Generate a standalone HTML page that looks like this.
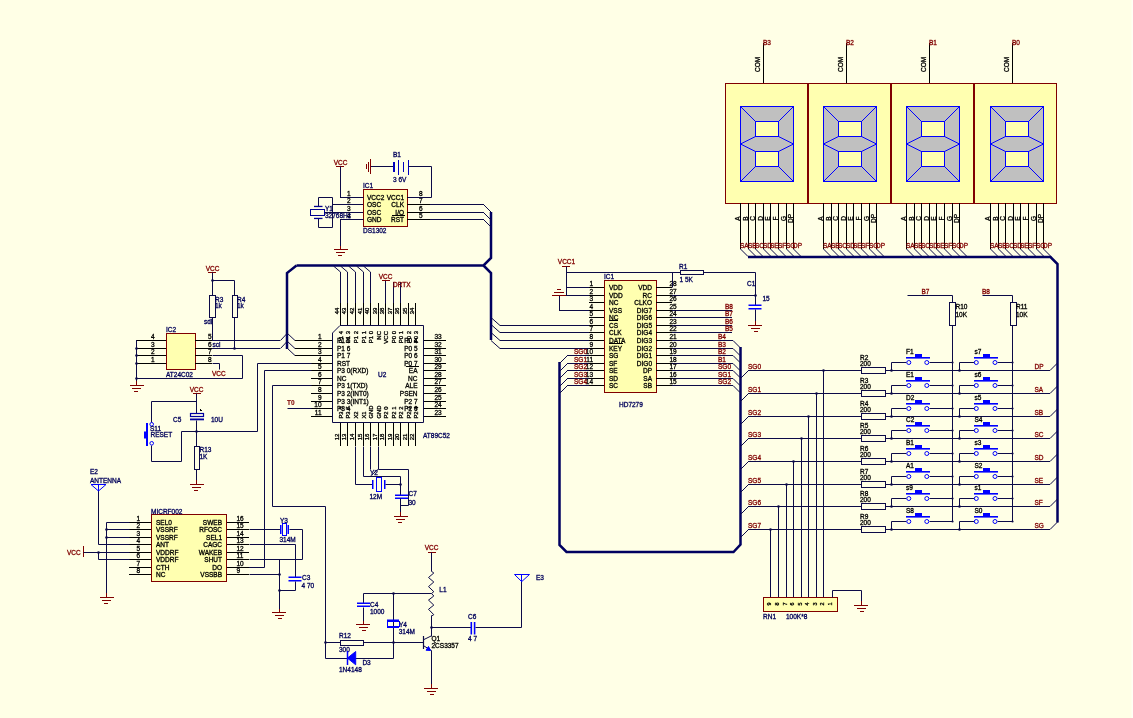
<!DOCTYPE html>
<html><head><meta charset="utf-8"><style>
html,body{margin:0;padding:0;background:#FFFFE6;}
body{width:1133px;height:718px;overflow:hidden;}
svg{display:block;will-change:transform;}
text{font-family:"Liberation Sans",sans-serif;}
</style></head><body>
<svg width="1133" height="718" viewBox="0 0 1133 718">
<rect x="0" y="0" width="1133" height="718" fill="#FFFFE6"/>
<rect x="725.5" y="83.5" width="331" height="120" fill="#FFFFB0" stroke="#800000" stroke-width="1"/>
<rect x="807" y="83" width="2" height="121" fill="#800000"/>
<rect x="890" y="83" width="2" height="121" fill="#800000"/>
<rect x="973" y="83" width="2" height="121" fill="#800000"/>
<rect x="740.5" y="106.5" width="53" height="75" fill="#C0C0C0" stroke="#0000FF" stroke-width="1"/>
<rect x="755.5" y="121.5" width="23" height="15" fill="#FFFFB0" stroke="#0000FF" stroke-width="1"/>
<rect x="755.5" y="151.5" width="23" height="15" fill="#FFFFB0" stroke="#0000FF" stroke-width="1"/>
<line x1="740.5" y1="106.5" x2="755.5" y2="121.5" stroke="#0000FF" stroke-width="1"/>
<line x1="793.5" y1="106.5" x2="778.5" y2="121.5" stroke="#0000FF" stroke-width="1"/>
<line x1="740.5" y1="181.5" x2="755.5" y2="166.5" stroke="#0000FF" stroke-width="1"/>
<line x1="793.5" y1="181.5" x2="778.5" y2="166.5" stroke="#0000FF" stroke-width="1"/>
<line x1="740.5" y1="144.0" x2="755.5" y2="136.5" stroke="#0000FF" stroke-width="1"/>
<line x1="740.5" y1="144.0" x2="755.5" y2="151.5" stroke="#0000FF" stroke-width="1"/>
<line x1="793.5" y1="144.0" x2="778.5" y2="136.5" stroke="#0000FF" stroke-width="1"/>
<line x1="793.5" y1="144.0" x2="778.5" y2="151.5" stroke="#0000FF" stroke-width="1"/>
<line x1="763.50" y1="43.00" x2="763.50" y2="83.00" stroke="#000000" stroke-width="1"/>
<text x="763.00" y="44.50" fill="#800000" stroke="#800000" stroke-width="0.3" font-size="6.5" text-anchor="start" font-weight="normal">B3</text>
<text x="760.00" y="72.00" fill="#000000" stroke="#000000" stroke-width="0.3" font-size="6.5" text-anchor="start" font-weight="normal" transform="rotate(-90 760.00 72.00)">COM</text>
<line x1="740.50" y1="203.00" x2="740.50" y2="249.00" stroke="#000000" stroke-width="1"/>
<line x1="740.5" y1="249" x2="748.0" y2="256.5" stroke="#0C0A48" stroke-width="1"/>
<text x="739.70" y="218.50" fill="#000000" stroke="#000000" stroke-width="0.3" font-size="6.5" text-anchor="middle" font-weight="normal" transform="rotate(-90 739.70 218.50)">A</text>
<line x1="748.50" y1="203.00" x2="748.50" y2="249.00" stroke="#000000" stroke-width="1"/>
<line x1="748.5" y1="249" x2="756.0" y2="256.5" stroke="#0C0A48" stroke-width="1"/>
<text x="747.70" y="218.50" fill="#000000" stroke="#000000" stroke-width="0.3" font-size="6.5" text-anchor="middle" font-weight="normal" transform="rotate(-90 747.70 218.50)">B</text>
<line x1="755.50" y1="203.00" x2="755.50" y2="249.00" stroke="#000000" stroke-width="1"/>
<line x1="755.5" y1="249" x2="763.0" y2="256.5" stroke="#0C0A48" stroke-width="1"/>
<text x="754.70" y="218.50" fill="#000000" stroke="#000000" stroke-width="0.3" font-size="6.5" text-anchor="middle" font-weight="normal" transform="rotate(-90 754.70 218.50)">C</text>
<line x1="763.50" y1="203.00" x2="763.50" y2="249.00" stroke="#000000" stroke-width="1"/>
<line x1="763.5" y1="249" x2="771.0" y2="256.5" stroke="#0C0A48" stroke-width="1"/>
<text x="762.70" y="218.50" fill="#000000" stroke="#000000" stroke-width="0.3" font-size="6.5" text-anchor="middle" font-weight="normal" transform="rotate(-90 762.70 218.50)">D</text>
<line x1="770.50" y1="203.00" x2="770.50" y2="249.00" stroke="#000000" stroke-width="1"/>
<line x1="770.5" y1="249" x2="778.0" y2="256.5" stroke="#0C0A48" stroke-width="1"/>
<text x="769.70" y="218.50" fill="#000000" stroke="#000000" stroke-width="0.3" font-size="6.5" text-anchor="middle" font-weight="normal" transform="rotate(-90 769.70 218.50)">E</text>
<line x1="778.50" y1="203.00" x2="778.50" y2="249.00" stroke="#000000" stroke-width="1"/>
<line x1="778.5" y1="249" x2="786.0" y2="256.5" stroke="#0C0A48" stroke-width="1"/>
<text x="777.70" y="218.50" fill="#000000" stroke="#000000" stroke-width="0.3" font-size="6.5" text-anchor="middle" font-weight="normal" transform="rotate(-90 777.70 218.50)">F</text>
<line x1="786.50" y1="203.00" x2="786.50" y2="249.00" stroke="#000000" stroke-width="1"/>
<line x1="786.5" y1="249" x2="794.0" y2="256.5" stroke="#0C0A48" stroke-width="1"/>
<text x="785.70" y="218.50" fill="#000000" stroke="#000000" stroke-width="0.3" font-size="6.5" text-anchor="middle" font-weight="normal" transform="rotate(-90 785.70 218.50)">G</text>
<line x1="793.50" y1="203.00" x2="793.50" y2="249.00" stroke="#000000" stroke-width="1"/>
<line x1="793.5" y1="249" x2="801.0" y2="256.5" stroke="#0C0A48" stroke-width="1"/>
<text x="792.70" y="218.50" fill="#000000" stroke="#000000" stroke-width="0.3" font-size="6.5" text-anchor="middle" font-weight="normal" transform="rotate(-90 792.70 218.50)">DP</text>
<text x="740.00" y="248.00" fill="#800000" stroke="#800000" stroke-width="0.3" font-size="6.5" text-anchor="start" font-weight="normal">SA</text>
<text x="748.00" y="248.00" fill="#800000" stroke="#800000" stroke-width="0.3" font-size="6.5" text-anchor="start" font-weight="normal">SB</text>
<text x="755.00" y="248.00" fill="#800000" stroke="#800000" stroke-width="0.3" font-size="6.5" text-anchor="start" font-weight="normal">SC</text>
<text x="763.00" y="248.00" fill="#800000" stroke="#800000" stroke-width="0.3" font-size="6.5" text-anchor="start" font-weight="normal">SD</text>
<text x="770.00" y="248.00" fill="#800000" stroke="#800000" stroke-width="0.3" font-size="6.5" text-anchor="start" font-weight="normal">SE</text>
<text x="778.00" y="248.00" fill="#800000" stroke="#800000" stroke-width="0.3" font-size="6.5" text-anchor="start" font-weight="normal">SF</text>
<text x="786.00" y="248.00" fill="#800000" stroke="#800000" stroke-width="0.3" font-size="6.5" text-anchor="start" font-weight="normal">SG</text>
<text x="793.00" y="248.00" fill="#800000" stroke="#800000" stroke-width="0.3" font-size="6.5" text-anchor="start" font-weight="normal">DP</text>
<rect x="823.5" y="106.5" width="53" height="75" fill="#C0C0C0" stroke="#0000FF" stroke-width="1"/>
<rect x="838.5" y="121.5" width="23" height="15" fill="#FFFFB0" stroke="#0000FF" stroke-width="1"/>
<rect x="838.5" y="151.5" width="23" height="15" fill="#FFFFB0" stroke="#0000FF" stroke-width="1"/>
<line x1="823.5" y1="106.5" x2="838.5" y2="121.5" stroke="#0000FF" stroke-width="1"/>
<line x1="876.5" y1="106.5" x2="861.5" y2="121.5" stroke="#0000FF" stroke-width="1"/>
<line x1="823.5" y1="181.5" x2="838.5" y2="166.5" stroke="#0000FF" stroke-width="1"/>
<line x1="876.5" y1="181.5" x2="861.5" y2="166.5" stroke="#0000FF" stroke-width="1"/>
<line x1="823.5" y1="144.0" x2="838.5" y2="136.5" stroke="#0000FF" stroke-width="1"/>
<line x1="823.5" y1="144.0" x2="838.5" y2="151.5" stroke="#0000FF" stroke-width="1"/>
<line x1="876.5" y1="144.0" x2="861.5" y2="136.5" stroke="#0000FF" stroke-width="1"/>
<line x1="876.5" y1="144.0" x2="861.5" y2="151.5" stroke="#0000FF" stroke-width="1"/>
<line x1="846.50" y1="43.00" x2="846.50" y2="83.00" stroke="#000000" stroke-width="1"/>
<text x="846.00" y="44.50" fill="#800000" stroke="#800000" stroke-width="0.3" font-size="6.5" text-anchor="start" font-weight="normal">B2</text>
<text x="843.00" y="72.00" fill="#000000" stroke="#000000" stroke-width="0.3" font-size="6.5" text-anchor="start" font-weight="normal" transform="rotate(-90 843.00 72.00)">COM</text>
<line x1="823.50" y1="203.00" x2="823.50" y2="249.00" stroke="#000000" stroke-width="1"/>
<line x1="823.5" y1="249" x2="831.0" y2="256.5" stroke="#0C0A48" stroke-width="1"/>
<text x="822.70" y="218.50" fill="#000000" stroke="#000000" stroke-width="0.3" font-size="6.5" text-anchor="middle" font-weight="normal" transform="rotate(-90 822.70 218.50)">A</text>
<line x1="831.50" y1="203.00" x2="831.50" y2="249.00" stroke="#000000" stroke-width="1"/>
<line x1="831.5" y1="249" x2="839.0" y2="256.5" stroke="#0C0A48" stroke-width="1"/>
<text x="830.70" y="218.50" fill="#000000" stroke="#000000" stroke-width="0.3" font-size="6.5" text-anchor="middle" font-weight="normal" transform="rotate(-90 830.70 218.50)">B</text>
<line x1="838.50" y1="203.00" x2="838.50" y2="249.00" stroke="#000000" stroke-width="1"/>
<line x1="838.5" y1="249" x2="846.0" y2="256.5" stroke="#0C0A48" stroke-width="1"/>
<text x="837.70" y="218.50" fill="#000000" stroke="#000000" stroke-width="0.3" font-size="6.5" text-anchor="middle" font-weight="normal" transform="rotate(-90 837.70 218.50)">C</text>
<line x1="846.50" y1="203.00" x2="846.50" y2="249.00" stroke="#000000" stroke-width="1"/>
<line x1="846.5" y1="249" x2="854.0" y2="256.5" stroke="#0C0A48" stroke-width="1"/>
<text x="845.70" y="218.50" fill="#000000" stroke="#000000" stroke-width="0.3" font-size="6.5" text-anchor="middle" font-weight="normal" transform="rotate(-90 845.70 218.50)">D</text>
<line x1="853.50" y1="203.00" x2="853.50" y2="249.00" stroke="#000000" stroke-width="1"/>
<line x1="853.5" y1="249" x2="861.0" y2="256.5" stroke="#0C0A48" stroke-width="1"/>
<text x="852.70" y="218.50" fill="#000000" stroke="#000000" stroke-width="0.3" font-size="6.5" text-anchor="middle" font-weight="normal" transform="rotate(-90 852.70 218.50)">E</text>
<line x1="861.50" y1="203.00" x2="861.50" y2="249.00" stroke="#000000" stroke-width="1"/>
<line x1="861.5" y1="249" x2="869.0" y2="256.5" stroke="#0C0A48" stroke-width="1"/>
<text x="860.70" y="218.50" fill="#000000" stroke="#000000" stroke-width="0.3" font-size="6.5" text-anchor="middle" font-weight="normal" transform="rotate(-90 860.70 218.50)">F</text>
<line x1="869.50" y1="203.00" x2="869.50" y2="249.00" stroke="#000000" stroke-width="1"/>
<line x1="869.5" y1="249" x2="877.0" y2="256.5" stroke="#0C0A48" stroke-width="1"/>
<text x="868.70" y="218.50" fill="#000000" stroke="#000000" stroke-width="0.3" font-size="6.5" text-anchor="middle" font-weight="normal" transform="rotate(-90 868.70 218.50)">G</text>
<line x1="876.50" y1="203.00" x2="876.50" y2="249.00" stroke="#000000" stroke-width="1"/>
<line x1="876.5" y1="249" x2="884.0" y2="256.5" stroke="#0C0A48" stroke-width="1"/>
<text x="875.70" y="218.50" fill="#000000" stroke="#000000" stroke-width="0.3" font-size="6.5" text-anchor="middle" font-weight="normal" transform="rotate(-90 875.70 218.50)">DP</text>
<text x="823.00" y="248.00" fill="#800000" stroke="#800000" stroke-width="0.3" font-size="6.5" text-anchor="start" font-weight="normal">SA</text>
<text x="831.00" y="248.00" fill="#800000" stroke="#800000" stroke-width="0.3" font-size="6.5" text-anchor="start" font-weight="normal">SB</text>
<text x="838.00" y="248.00" fill="#800000" stroke="#800000" stroke-width="0.3" font-size="6.5" text-anchor="start" font-weight="normal">SC</text>
<text x="846.00" y="248.00" fill="#800000" stroke="#800000" stroke-width="0.3" font-size="6.5" text-anchor="start" font-weight="normal">SD</text>
<text x="853.00" y="248.00" fill="#800000" stroke="#800000" stroke-width="0.3" font-size="6.5" text-anchor="start" font-weight="normal">SE</text>
<text x="861.00" y="248.00" fill="#800000" stroke="#800000" stroke-width="0.3" font-size="6.5" text-anchor="start" font-weight="normal">SF</text>
<text x="869.00" y="248.00" fill="#800000" stroke="#800000" stroke-width="0.3" font-size="6.5" text-anchor="start" font-weight="normal">SG</text>
<text x="876.00" y="248.00" fill="#800000" stroke="#800000" stroke-width="0.3" font-size="6.5" text-anchor="start" font-weight="normal">DP</text>
<rect x="906.5" y="106.5" width="53" height="75" fill="#C0C0C0" stroke="#0000FF" stroke-width="1"/>
<rect x="921.5" y="121.5" width="23" height="15" fill="#FFFFB0" stroke="#0000FF" stroke-width="1"/>
<rect x="921.5" y="151.5" width="23" height="15" fill="#FFFFB0" stroke="#0000FF" stroke-width="1"/>
<line x1="906.5" y1="106.5" x2="921.5" y2="121.5" stroke="#0000FF" stroke-width="1"/>
<line x1="959.5" y1="106.5" x2="944.5" y2="121.5" stroke="#0000FF" stroke-width="1"/>
<line x1="906.5" y1="181.5" x2="921.5" y2="166.5" stroke="#0000FF" stroke-width="1"/>
<line x1="959.5" y1="181.5" x2="944.5" y2="166.5" stroke="#0000FF" stroke-width="1"/>
<line x1="906.5" y1="144.0" x2="921.5" y2="136.5" stroke="#0000FF" stroke-width="1"/>
<line x1="906.5" y1="144.0" x2="921.5" y2="151.5" stroke="#0000FF" stroke-width="1"/>
<line x1="959.5" y1="144.0" x2="944.5" y2="136.5" stroke="#0000FF" stroke-width="1"/>
<line x1="959.5" y1="144.0" x2="944.5" y2="151.5" stroke="#0000FF" stroke-width="1"/>
<line x1="929.50" y1="43.00" x2="929.50" y2="83.00" stroke="#000000" stroke-width="1"/>
<text x="929.00" y="44.50" fill="#800000" stroke="#800000" stroke-width="0.3" font-size="6.5" text-anchor="start" font-weight="normal">B1</text>
<text x="926.00" y="72.00" fill="#000000" stroke="#000000" stroke-width="0.3" font-size="6.5" text-anchor="start" font-weight="normal" transform="rotate(-90 926.00 72.00)">COM</text>
<line x1="906.50" y1="203.00" x2="906.50" y2="249.00" stroke="#000000" stroke-width="1"/>
<line x1="906.5" y1="249" x2="914.0" y2="256.5" stroke="#0C0A48" stroke-width="1"/>
<text x="905.70" y="218.50" fill="#000000" stroke="#000000" stroke-width="0.3" font-size="6.5" text-anchor="middle" font-weight="normal" transform="rotate(-90 905.70 218.50)">A</text>
<line x1="914.50" y1="203.00" x2="914.50" y2="249.00" stroke="#000000" stroke-width="1"/>
<line x1="914.5" y1="249" x2="922.0" y2="256.5" stroke="#0C0A48" stroke-width="1"/>
<text x="913.70" y="218.50" fill="#000000" stroke="#000000" stroke-width="0.3" font-size="6.5" text-anchor="middle" font-weight="normal" transform="rotate(-90 913.70 218.50)">B</text>
<line x1="921.50" y1="203.00" x2="921.50" y2="249.00" stroke="#000000" stroke-width="1"/>
<line x1="921.5" y1="249" x2="929.0" y2="256.5" stroke="#0C0A48" stroke-width="1"/>
<text x="920.70" y="218.50" fill="#000000" stroke="#000000" stroke-width="0.3" font-size="6.5" text-anchor="middle" font-weight="normal" transform="rotate(-90 920.70 218.50)">C</text>
<line x1="929.50" y1="203.00" x2="929.50" y2="249.00" stroke="#000000" stroke-width="1"/>
<line x1="929.5" y1="249" x2="937.0" y2="256.5" stroke="#0C0A48" stroke-width="1"/>
<text x="928.70" y="218.50" fill="#000000" stroke="#000000" stroke-width="0.3" font-size="6.5" text-anchor="middle" font-weight="normal" transform="rotate(-90 928.70 218.50)">D</text>
<line x1="936.50" y1="203.00" x2="936.50" y2="249.00" stroke="#000000" stroke-width="1"/>
<line x1="936.5" y1="249" x2="944.0" y2="256.5" stroke="#0C0A48" stroke-width="1"/>
<text x="935.70" y="218.50" fill="#000000" stroke="#000000" stroke-width="0.3" font-size="6.5" text-anchor="middle" font-weight="normal" transform="rotate(-90 935.70 218.50)">E</text>
<line x1="944.50" y1="203.00" x2="944.50" y2="249.00" stroke="#000000" stroke-width="1"/>
<line x1="944.5" y1="249" x2="952.0" y2="256.5" stroke="#0C0A48" stroke-width="1"/>
<text x="943.70" y="218.50" fill="#000000" stroke="#000000" stroke-width="0.3" font-size="6.5" text-anchor="middle" font-weight="normal" transform="rotate(-90 943.70 218.50)">F</text>
<line x1="952.50" y1="203.00" x2="952.50" y2="249.00" stroke="#000000" stroke-width="1"/>
<line x1="952.5" y1="249" x2="960.0" y2="256.5" stroke="#0C0A48" stroke-width="1"/>
<text x="951.70" y="218.50" fill="#000000" stroke="#000000" stroke-width="0.3" font-size="6.5" text-anchor="middle" font-weight="normal" transform="rotate(-90 951.70 218.50)">G</text>
<line x1="959.50" y1="203.00" x2="959.50" y2="249.00" stroke="#000000" stroke-width="1"/>
<line x1="959.5" y1="249" x2="967.0" y2="256.5" stroke="#0C0A48" stroke-width="1"/>
<text x="958.70" y="218.50" fill="#000000" stroke="#000000" stroke-width="0.3" font-size="6.5" text-anchor="middle" font-weight="normal" transform="rotate(-90 958.70 218.50)">DP</text>
<text x="906.00" y="248.00" fill="#800000" stroke="#800000" stroke-width="0.3" font-size="6.5" text-anchor="start" font-weight="normal">SA</text>
<text x="914.00" y="248.00" fill="#800000" stroke="#800000" stroke-width="0.3" font-size="6.5" text-anchor="start" font-weight="normal">SB</text>
<text x="921.00" y="248.00" fill="#800000" stroke="#800000" stroke-width="0.3" font-size="6.5" text-anchor="start" font-weight="normal">SC</text>
<text x="929.00" y="248.00" fill="#800000" stroke="#800000" stroke-width="0.3" font-size="6.5" text-anchor="start" font-weight="normal">SD</text>
<text x="936.00" y="248.00" fill="#800000" stroke="#800000" stroke-width="0.3" font-size="6.5" text-anchor="start" font-weight="normal">SE</text>
<text x="944.00" y="248.00" fill="#800000" stroke="#800000" stroke-width="0.3" font-size="6.5" text-anchor="start" font-weight="normal">SF</text>
<text x="952.00" y="248.00" fill="#800000" stroke="#800000" stroke-width="0.3" font-size="6.5" text-anchor="start" font-weight="normal">SG</text>
<text x="959.00" y="248.00" fill="#800000" stroke="#800000" stroke-width="0.3" font-size="6.5" text-anchor="start" font-weight="normal">DP</text>
<rect x="990.5" y="106.5" width="53" height="75" fill="#C0C0C0" stroke="#0000FF" stroke-width="1"/>
<rect x="1005.5" y="121.5" width="23" height="15" fill="#FFFFB0" stroke="#0000FF" stroke-width="1"/>
<rect x="1005.5" y="151.5" width="23" height="15" fill="#FFFFB0" stroke="#0000FF" stroke-width="1"/>
<line x1="990.5" y1="106.5" x2="1005.5" y2="121.5" stroke="#0000FF" stroke-width="1"/>
<line x1="1043.5" y1="106.5" x2="1028.5" y2="121.5" stroke="#0000FF" stroke-width="1"/>
<line x1="990.5" y1="181.5" x2="1005.5" y2="166.5" stroke="#0000FF" stroke-width="1"/>
<line x1="1043.5" y1="181.5" x2="1028.5" y2="166.5" stroke="#0000FF" stroke-width="1"/>
<line x1="990.5" y1="144.0" x2="1005.5" y2="136.5" stroke="#0000FF" stroke-width="1"/>
<line x1="990.5" y1="144.0" x2="1005.5" y2="151.5" stroke="#0000FF" stroke-width="1"/>
<line x1="1043.5" y1="144.0" x2="1028.5" y2="136.5" stroke="#0000FF" stroke-width="1"/>
<line x1="1043.5" y1="144.0" x2="1028.5" y2="151.5" stroke="#0000FF" stroke-width="1"/>
<line x1="1012.50" y1="43.00" x2="1012.50" y2="83.00" stroke="#000000" stroke-width="1"/>
<text x="1012.00" y="44.50" fill="#800000" stroke="#800000" stroke-width="0.3" font-size="6.5" text-anchor="start" font-weight="normal">B0</text>
<text x="1009.00" y="72.00" fill="#000000" stroke="#000000" stroke-width="0.3" font-size="6.5" text-anchor="start" font-weight="normal" transform="rotate(-90 1009.00 72.00)">COM</text>
<line x1="990.50" y1="203.00" x2="990.50" y2="249.00" stroke="#000000" stroke-width="1"/>
<line x1="990.5" y1="249" x2="998.0" y2="256.5" stroke="#0C0A48" stroke-width="1"/>
<text x="989.70" y="218.50" fill="#000000" stroke="#000000" stroke-width="0.3" font-size="6.5" text-anchor="middle" font-weight="normal" transform="rotate(-90 989.70 218.50)">A</text>
<line x1="998.50" y1="203.00" x2="998.50" y2="249.00" stroke="#000000" stroke-width="1"/>
<line x1="998.5" y1="249" x2="1006.0" y2="256.5" stroke="#0C0A48" stroke-width="1"/>
<text x="997.70" y="218.50" fill="#000000" stroke="#000000" stroke-width="0.3" font-size="6.5" text-anchor="middle" font-weight="normal" transform="rotate(-90 997.70 218.50)">B</text>
<line x1="1005.50" y1="203.00" x2="1005.50" y2="249.00" stroke="#000000" stroke-width="1"/>
<line x1="1005.5" y1="249" x2="1013.0" y2="256.5" stroke="#0C0A48" stroke-width="1"/>
<text x="1004.70" y="218.50" fill="#000000" stroke="#000000" stroke-width="0.3" font-size="6.5" text-anchor="middle" font-weight="normal" transform="rotate(-90 1004.70 218.50)">C</text>
<line x1="1013.50" y1="203.00" x2="1013.50" y2="249.00" stroke="#000000" stroke-width="1"/>
<line x1="1013.5" y1="249" x2="1021.0" y2="256.5" stroke="#0C0A48" stroke-width="1"/>
<text x="1012.70" y="218.50" fill="#000000" stroke="#000000" stroke-width="0.3" font-size="6.5" text-anchor="middle" font-weight="normal" transform="rotate(-90 1012.70 218.50)">D</text>
<line x1="1020.50" y1="203.00" x2="1020.50" y2="249.00" stroke="#000000" stroke-width="1"/>
<line x1="1020.5" y1="249" x2="1028.0" y2="256.5" stroke="#0C0A48" stroke-width="1"/>
<text x="1019.70" y="218.50" fill="#000000" stroke="#000000" stroke-width="0.3" font-size="6.5" text-anchor="middle" font-weight="normal" transform="rotate(-90 1019.70 218.50)">E</text>
<line x1="1028.50" y1="203.00" x2="1028.50" y2="249.00" stroke="#000000" stroke-width="1"/>
<line x1="1028.5" y1="249" x2="1036.0" y2="256.5" stroke="#0C0A48" stroke-width="1"/>
<text x="1027.70" y="218.50" fill="#000000" stroke="#000000" stroke-width="0.3" font-size="6.5" text-anchor="middle" font-weight="normal" transform="rotate(-90 1027.70 218.50)">F</text>
<line x1="1036.50" y1="203.00" x2="1036.50" y2="249.00" stroke="#000000" stroke-width="1"/>
<line x1="1036.5" y1="249" x2="1044.0" y2="256.5" stroke="#0C0A48" stroke-width="1"/>
<text x="1035.70" y="218.50" fill="#000000" stroke="#000000" stroke-width="0.3" font-size="6.5" text-anchor="middle" font-weight="normal" transform="rotate(-90 1035.70 218.50)">G</text>
<line x1="1043.50" y1="203.00" x2="1043.50" y2="249.00" stroke="#000000" stroke-width="1"/>
<line x1="1043.5" y1="249" x2="1051.0" y2="256.5" stroke="#0C0A48" stroke-width="1"/>
<text x="1042.70" y="218.50" fill="#000000" stroke="#000000" stroke-width="0.3" font-size="6.5" text-anchor="middle" font-weight="normal" transform="rotate(-90 1042.70 218.50)">DP</text>
<text x="990.00" y="248.00" fill="#800000" stroke="#800000" stroke-width="0.3" font-size="6.5" text-anchor="start" font-weight="normal">SA</text>
<text x="998.00" y="248.00" fill="#800000" stroke="#800000" stroke-width="0.3" font-size="6.5" text-anchor="start" font-weight="normal">SB</text>
<text x="1005.00" y="248.00" fill="#800000" stroke="#800000" stroke-width="0.3" font-size="6.5" text-anchor="start" font-weight="normal">SC</text>
<text x="1013.00" y="248.00" fill="#800000" stroke="#800000" stroke-width="0.3" font-size="6.5" text-anchor="start" font-weight="normal">SD</text>
<text x="1020.00" y="248.00" fill="#800000" stroke="#800000" stroke-width="0.3" font-size="6.5" text-anchor="start" font-weight="normal">SE</text>
<text x="1028.00" y="248.00" fill="#800000" stroke="#800000" stroke-width="0.3" font-size="6.5" text-anchor="start" font-weight="normal">SF</text>
<text x="1036.00" y="248.00" fill="#800000" stroke="#800000" stroke-width="0.3" font-size="6.5" text-anchor="start" font-weight="normal">SG</text>
<text x="1043.00" y="248.00" fill="#800000" stroke="#800000" stroke-width="0.3" font-size="6.5" text-anchor="start" font-weight="normal">DP</text>
<polyline points="748.00,257.00 1050.50,257.00 1057.50,264.00 1057.50,522.50" stroke="#000060" stroke-width="2.5" fill="none" stroke-linejoin="miter"/>
<polyline points="740.50,347.00 740.50,544.50 733.50,552.00 566.50,552.00 559.50,545.00 559.50,362.00" stroke="#000060" stroke-width="2.5" fill="none" stroke-linejoin="miter"/>
<line x1="740" y1="379.0" x2="748.5" y2="370.5" stroke="#0C0A48"/>
<line x1="748.00" y1="370.50" x2="1050.00" y2="370.50" stroke="#0C0A48" stroke-width="1"/>
<line x1="1050" y1="370.5" x2="1057.5" y2="363.0" stroke="#0C0A48"/>
<text x="748.00" y="368.50" fill="#800000" stroke="#800000" stroke-width="0.3" font-size="6.5" text-anchor="start" font-weight="normal">SG0</text>
<rect x="861.5" y="367.5" width="24.0" height="6.0" stroke="#0C0A48" stroke-width="1" fill="#FFFFE6"/>
<text x="860.00" y="360.00" fill="#000000" stroke="#000000" stroke-width="0.3" font-size="6.5" text-anchor="start" font-weight="normal">R2</text>
<text x="860.00" y="366.00" fill="#000000" stroke="#000000" stroke-width="0.3" font-size="6.5" text-anchor="start" font-weight="normal">200</text>
<text x="1034.50" y="368.50" fill="#800000" stroke="#800000" stroke-width="0.3" font-size="6.5" text-anchor="start" font-weight="normal">DP</text>
<polyline points="891.50,370.50 891.50,362.50 906.50,362.50" stroke="#0C0A48" stroke-width="1" fill="none" stroke-linejoin="miter"/>
<polyline points="929.50,362.50 952.50,362.50" stroke="#0C0A48" stroke-width="1" fill="none" stroke-linejoin="miter"/>
<circle cx="908.8" cy="362.5" r="2" fill="none" stroke="#0000FF" stroke-width="1"/>
<circle cx="926.8" cy="362.5" r="2" fill="none" stroke="#0000FF" stroke-width="1"/>
<rect x="906" y="357.0" width="24" height="1.6" fill="#0000FF"/>
<rect x="915" y="354.0" width="7" height="3.4" fill="#0000FF"/>
<text x="906.00" y="353.50" fill="#000000" stroke="#000000" stroke-width="0.3" font-size="6.5" text-anchor="start" font-weight="normal">F1</text>
<circle cx="891.5" cy="370.5" r="1.3" fill="#0C0A48"/>
<circle cx="952.5" cy="362.5" r="1.1" fill="#0C0A48"/>
<circle cx="1012.5" cy="362.5" r="1.1" fill="#0C0A48"/>
<polyline points="959.50,370.50 959.50,362.50 974.50,362.50" stroke="#0C0A48" stroke-width="1" fill="none" stroke-linejoin="miter"/>
<polyline points="997.50,362.50 1012.50,362.50" stroke="#0C0A48" stroke-width="1" fill="none" stroke-linejoin="miter"/>
<circle cx="976.3" cy="362.5" r="2" fill="none" stroke="#0000FF" stroke-width="1"/>
<circle cx="995" cy="362.5" r="2" fill="none" stroke="#0000FF" stroke-width="1"/>
<rect x="974" y="357.0" width="24" height="1.6" fill="#0000FF"/>
<rect x="983" y="354.0" width="7" height="3.4" fill="#0000FF"/>
<text x="974.50" y="353.50" fill="#000000" stroke="#000000" stroke-width="0.3" font-size="6.5" text-anchor="start" font-weight="normal">s7</text>
<circle cx="959.5" cy="370.5" r="1.3" fill="#0C0A48"/>
<line x1="740" y1="402.0" x2="748.5" y2="393.5" stroke="#0C0A48"/>
<line x1="748.00" y1="393.50" x2="1050.00" y2="393.50" stroke="#0C0A48" stroke-width="1"/>
<line x1="1050" y1="393.5" x2="1057.5" y2="386.0" stroke="#0C0A48"/>
<text x="748.00" y="391.50" fill="#800000" stroke="#800000" stroke-width="0.3" font-size="6.5" text-anchor="start" font-weight="normal">SG1</text>
<rect x="861.5" y="390.5" width="24.0" height="6.0" stroke="#0C0A48" stroke-width="1" fill="#FFFFE6"/>
<text x="860.00" y="383.00" fill="#000000" stroke="#000000" stroke-width="0.3" font-size="6.5" text-anchor="start" font-weight="normal">R3</text>
<text x="860.00" y="389.00" fill="#000000" stroke="#000000" stroke-width="0.3" font-size="6.5" text-anchor="start" font-weight="normal">200</text>
<text x="1034.50" y="391.50" fill="#800000" stroke="#800000" stroke-width="0.3" font-size="6.5" text-anchor="start" font-weight="normal">SA</text>
<polyline points="891.50,393.50 891.50,385.50 906.50,385.50" stroke="#0C0A48" stroke-width="1" fill="none" stroke-linejoin="miter"/>
<polyline points="929.50,385.50 952.50,385.50" stroke="#0C0A48" stroke-width="1" fill="none" stroke-linejoin="miter"/>
<circle cx="908.8" cy="385.5" r="2" fill="none" stroke="#0000FF" stroke-width="1"/>
<circle cx="926.8" cy="385.5" r="2" fill="none" stroke="#0000FF" stroke-width="1"/>
<rect x="906" y="380.0" width="24" height="1.6" fill="#0000FF"/>
<rect x="915" y="377.0" width="7" height="3.4" fill="#0000FF"/>
<text x="906.00" y="376.50" fill="#000000" stroke="#000000" stroke-width="0.3" font-size="6.5" text-anchor="start" font-weight="normal">E1</text>
<circle cx="891.5" cy="393.5" r="1.3" fill="#0C0A48"/>
<circle cx="952.5" cy="385.5" r="1.1" fill="#0C0A48"/>
<circle cx="1012.5" cy="385.5" r="1.1" fill="#0C0A48"/>
<polyline points="959.50,393.50 959.50,385.50 974.50,385.50" stroke="#0C0A48" stroke-width="1" fill="none" stroke-linejoin="miter"/>
<polyline points="997.50,385.50 1012.50,385.50" stroke="#0C0A48" stroke-width="1" fill="none" stroke-linejoin="miter"/>
<circle cx="976.3" cy="385.5" r="2" fill="none" stroke="#0000FF" stroke-width="1"/>
<circle cx="995" cy="385.5" r="2" fill="none" stroke="#0000FF" stroke-width="1"/>
<rect x="974" y="380.0" width="24" height="1.6" fill="#0000FF"/>
<rect x="983" y="377.0" width="7" height="3.4" fill="#0000FF"/>
<text x="974.50" y="376.50" fill="#000000" stroke="#000000" stroke-width="0.3" font-size="6.5" text-anchor="start" font-weight="normal">s6</text>
<circle cx="959.5" cy="393.5" r="1.3" fill="#0C0A48"/>
<line x1="740" y1="425.0" x2="748.5" y2="416.5" stroke="#0C0A48"/>
<line x1="748.00" y1="416.50" x2="1050.00" y2="416.50" stroke="#0C0A48" stroke-width="1"/>
<line x1="1050" y1="416.5" x2="1057.5" y2="409.0" stroke="#0C0A48"/>
<text x="748.00" y="414.50" fill="#800000" stroke="#800000" stroke-width="0.3" font-size="6.5" text-anchor="start" font-weight="normal">SG2</text>
<rect x="861.5" y="413.5" width="24.0" height="6.0" stroke="#0C0A48" stroke-width="1" fill="#FFFFE6"/>
<text x="860.00" y="406.00" fill="#000000" stroke="#000000" stroke-width="0.3" font-size="6.5" text-anchor="start" font-weight="normal">R4</text>
<text x="860.00" y="412.00" fill="#000000" stroke="#000000" stroke-width="0.3" font-size="6.5" text-anchor="start" font-weight="normal">200</text>
<text x="1034.50" y="414.50" fill="#800000" stroke="#800000" stroke-width="0.3" font-size="6.5" text-anchor="start" font-weight="normal">SB</text>
<polyline points="891.50,416.50 891.50,408.50 906.50,408.50" stroke="#0C0A48" stroke-width="1" fill="none" stroke-linejoin="miter"/>
<polyline points="929.50,408.50 952.50,408.50" stroke="#0C0A48" stroke-width="1" fill="none" stroke-linejoin="miter"/>
<circle cx="908.8" cy="408.5" r="2" fill="none" stroke="#0000FF" stroke-width="1"/>
<circle cx="926.8" cy="408.5" r="2" fill="none" stroke="#0000FF" stroke-width="1"/>
<rect x="906" y="403.0" width="24" height="1.6" fill="#0000FF"/>
<rect x="915" y="400.0" width="7" height="3.4" fill="#0000FF"/>
<text x="906.00" y="399.50" fill="#000000" stroke="#000000" stroke-width="0.3" font-size="6.5" text-anchor="start" font-weight="normal">D2</text>
<circle cx="891.5" cy="416.5" r="1.3" fill="#0C0A48"/>
<circle cx="952.5" cy="408.5" r="1.1" fill="#0C0A48"/>
<circle cx="1012.5" cy="408.5" r="1.1" fill="#0C0A48"/>
<polyline points="959.50,416.50 959.50,408.50 974.50,408.50" stroke="#0C0A48" stroke-width="1" fill="none" stroke-linejoin="miter"/>
<polyline points="997.50,408.50 1012.50,408.50" stroke="#0C0A48" stroke-width="1" fill="none" stroke-linejoin="miter"/>
<circle cx="976.3" cy="408.5" r="2" fill="none" stroke="#0000FF" stroke-width="1"/>
<circle cx="995" cy="408.5" r="2" fill="none" stroke="#0000FF" stroke-width="1"/>
<rect x="974" y="403.0" width="24" height="1.6" fill="#0000FF"/>
<rect x="983" y="400.0" width="7" height="3.4" fill="#0000FF"/>
<text x="974.50" y="399.50" fill="#000000" stroke="#000000" stroke-width="0.3" font-size="6.5" text-anchor="start" font-weight="normal">s5</text>
<circle cx="959.5" cy="416.5" r="1.3" fill="#0C0A48"/>
<line x1="740" y1="447.0" x2="748.5" y2="438.5" stroke="#0C0A48"/>
<line x1="748.00" y1="438.50" x2="1050.00" y2="438.50" stroke="#0C0A48" stroke-width="1"/>
<line x1="1050" y1="438.5" x2="1057.5" y2="431.0" stroke="#0C0A48"/>
<text x="748.00" y="436.50" fill="#800000" stroke="#800000" stroke-width="0.3" font-size="6.5" text-anchor="start" font-weight="normal">SG3</text>
<rect x="861.5" y="435.5" width="24.0" height="6.0" stroke="#0C0A48" stroke-width="1" fill="#FFFFE6"/>
<text x="860.00" y="428.00" fill="#000000" stroke="#000000" stroke-width="0.3" font-size="6.5" text-anchor="start" font-weight="normal">R5</text>
<text x="860.00" y="434.00" fill="#000000" stroke="#000000" stroke-width="0.3" font-size="6.5" text-anchor="start" font-weight="normal">200</text>
<text x="1034.50" y="436.50" fill="#800000" stroke="#800000" stroke-width="0.3" font-size="6.5" text-anchor="start" font-weight="normal">SC</text>
<polyline points="891.50,438.50 891.50,430.50 906.50,430.50" stroke="#0C0A48" stroke-width="1" fill="none" stroke-linejoin="miter"/>
<polyline points="929.50,430.50 952.50,430.50" stroke="#0C0A48" stroke-width="1" fill="none" stroke-linejoin="miter"/>
<circle cx="908.8" cy="430.5" r="2" fill="none" stroke="#0000FF" stroke-width="1"/>
<circle cx="926.8" cy="430.5" r="2" fill="none" stroke="#0000FF" stroke-width="1"/>
<rect x="906" y="425.0" width="24" height="1.6" fill="#0000FF"/>
<rect x="915" y="422.0" width="7" height="3.4" fill="#0000FF"/>
<text x="906.00" y="421.50" fill="#000000" stroke="#000000" stroke-width="0.3" font-size="6.5" text-anchor="start" font-weight="normal">C2</text>
<circle cx="891.5" cy="438.5" r="1.3" fill="#0C0A48"/>
<circle cx="952.5" cy="430.5" r="1.1" fill="#0C0A48"/>
<circle cx="1012.5" cy="430.5" r="1.1" fill="#0C0A48"/>
<polyline points="959.50,438.50 959.50,430.50 974.50,430.50" stroke="#0C0A48" stroke-width="1" fill="none" stroke-linejoin="miter"/>
<polyline points="997.50,430.50 1012.50,430.50" stroke="#0C0A48" stroke-width="1" fill="none" stroke-linejoin="miter"/>
<circle cx="976.3" cy="430.5" r="2" fill="none" stroke="#0000FF" stroke-width="1"/>
<circle cx="995" cy="430.5" r="2" fill="none" stroke="#0000FF" stroke-width="1"/>
<rect x="974" y="425.0" width="24" height="1.6" fill="#0000FF"/>
<rect x="983" y="422.0" width="7" height="3.4" fill="#0000FF"/>
<text x="974.50" y="421.50" fill="#000000" stroke="#000000" stroke-width="0.3" font-size="6.5" text-anchor="start" font-weight="normal">S4</text>
<circle cx="959.5" cy="438.5" r="1.3" fill="#0C0A48"/>
<line x1="740" y1="470.0" x2="748.5" y2="461.5" stroke="#0C0A48"/>
<line x1="748.00" y1="461.50" x2="1050.00" y2="461.50" stroke="#0C0A48" stroke-width="1"/>
<line x1="1050" y1="461.5" x2="1057.5" y2="454.0" stroke="#0C0A48"/>
<text x="748.00" y="459.50" fill="#800000" stroke="#800000" stroke-width="0.3" font-size="6.5" text-anchor="start" font-weight="normal">SG4</text>
<rect x="861.5" y="458.5" width="24.0" height="6.0" stroke="#0C0A48" stroke-width="1" fill="#FFFFE6"/>
<text x="860.00" y="451.00" fill="#000000" stroke="#000000" stroke-width="0.3" font-size="6.5" text-anchor="start" font-weight="normal">R6</text>
<text x="860.00" y="457.00" fill="#000000" stroke="#000000" stroke-width="0.3" font-size="6.5" text-anchor="start" font-weight="normal">200</text>
<text x="1034.50" y="459.50" fill="#800000" stroke="#800000" stroke-width="0.3" font-size="6.5" text-anchor="start" font-weight="normal">SD</text>
<polyline points="891.50,461.50 891.50,453.50 906.50,453.50" stroke="#0C0A48" stroke-width="1" fill="none" stroke-linejoin="miter"/>
<polyline points="929.50,453.50 952.50,453.50" stroke="#0C0A48" stroke-width="1" fill="none" stroke-linejoin="miter"/>
<circle cx="908.8" cy="453.5" r="2" fill="none" stroke="#0000FF" stroke-width="1"/>
<circle cx="926.8" cy="453.5" r="2" fill="none" stroke="#0000FF" stroke-width="1"/>
<rect x="906" y="448.0" width="24" height="1.6" fill="#0000FF"/>
<rect x="915" y="445.0" width="7" height="3.4" fill="#0000FF"/>
<text x="906.00" y="444.50" fill="#000000" stroke="#000000" stroke-width="0.3" font-size="6.5" text-anchor="start" font-weight="normal">B1</text>
<circle cx="891.5" cy="461.5" r="1.3" fill="#0C0A48"/>
<circle cx="952.5" cy="453.5" r="1.1" fill="#0C0A48"/>
<circle cx="1012.5" cy="453.5" r="1.1" fill="#0C0A48"/>
<polyline points="959.50,461.50 959.50,453.50 974.50,453.50" stroke="#0C0A48" stroke-width="1" fill="none" stroke-linejoin="miter"/>
<polyline points="997.50,453.50 1012.50,453.50" stroke="#0C0A48" stroke-width="1" fill="none" stroke-linejoin="miter"/>
<circle cx="976.3" cy="453.5" r="2" fill="none" stroke="#0000FF" stroke-width="1"/>
<circle cx="995" cy="453.5" r="2" fill="none" stroke="#0000FF" stroke-width="1"/>
<rect x="974" y="448.0" width="24" height="1.6" fill="#0000FF"/>
<rect x="983" y="445.0" width="7" height="3.4" fill="#0000FF"/>
<text x="974.50" y="444.50" fill="#000000" stroke="#000000" stroke-width="0.3" font-size="6.5" text-anchor="start" font-weight="normal">s3</text>
<circle cx="959.5" cy="461.5" r="1.3" fill="#0C0A48"/>
<line x1="740" y1="493.0" x2="748.5" y2="484.5" stroke="#0C0A48"/>
<line x1="748.00" y1="484.50" x2="1050.00" y2="484.50" stroke="#0C0A48" stroke-width="1"/>
<line x1="1050" y1="484.5" x2="1057.5" y2="477.0" stroke="#0C0A48"/>
<text x="748.00" y="482.50" fill="#800000" stroke="#800000" stroke-width="0.3" font-size="6.5" text-anchor="start" font-weight="normal">SG5</text>
<rect x="861.5" y="481.5" width="24.0" height="6.0" stroke="#0C0A48" stroke-width="1" fill="#FFFFE6"/>
<text x="860.00" y="474.00" fill="#000000" stroke="#000000" stroke-width="0.3" font-size="6.5" text-anchor="start" font-weight="normal">R7</text>
<text x="860.00" y="480.00" fill="#000000" stroke="#000000" stroke-width="0.3" font-size="6.5" text-anchor="start" font-weight="normal">200</text>
<text x="1034.50" y="482.50" fill="#800000" stroke="#800000" stroke-width="0.3" font-size="6.5" text-anchor="start" font-weight="normal">SE</text>
<polyline points="891.50,484.50 891.50,476.50 906.50,476.50" stroke="#0C0A48" stroke-width="1" fill="none" stroke-linejoin="miter"/>
<polyline points="929.50,476.50 952.50,476.50" stroke="#0C0A48" stroke-width="1" fill="none" stroke-linejoin="miter"/>
<circle cx="908.8" cy="476.5" r="2" fill="none" stroke="#0000FF" stroke-width="1"/>
<circle cx="926.8" cy="476.5" r="2" fill="none" stroke="#0000FF" stroke-width="1"/>
<rect x="906" y="471.0" width="24" height="1.6" fill="#0000FF"/>
<rect x="915" y="468.0" width="7" height="3.4" fill="#0000FF"/>
<text x="906.00" y="467.50" fill="#000000" stroke="#000000" stroke-width="0.3" font-size="6.5" text-anchor="start" font-weight="normal">A1</text>
<circle cx="891.5" cy="484.5" r="1.3" fill="#0C0A48"/>
<circle cx="952.5" cy="476.5" r="1.1" fill="#0C0A48"/>
<circle cx="1012.5" cy="476.5" r="1.1" fill="#0C0A48"/>
<polyline points="959.50,484.50 959.50,476.50 974.50,476.50" stroke="#0C0A48" stroke-width="1" fill="none" stroke-linejoin="miter"/>
<polyline points="997.50,476.50 1012.50,476.50" stroke="#0C0A48" stroke-width="1" fill="none" stroke-linejoin="miter"/>
<circle cx="976.3" cy="476.5" r="2" fill="none" stroke="#0000FF" stroke-width="1"/>
<circle cx="995" cy="476.5" r="2" fill="none" stroke="#0000FF" stroke-width="1"/>
<rect x="974" y="471.0" width="24" height="1.6" fill="#0000FF"/>
<rect x="983" y="468.0" width="7" height="3.4" fill="#0000FF"/>
<text x="974.50" y="467.50" fill="#000000" stroke="#000000" stroke-width="0.3" font-size="6.5" text-anchor="start" font-weight="normal">S2</text>
<circle cx="959.5" cy="484.5" r="1.3" fill="#0C0A48"/>
<line x1="740" y1="515.0" x2="748.5" y2="506.5" stroke="#0C0A48"/>
<line x1="748.00" y1="506.50" x2="1050.00" y2="506.50" stroke="#0C0A48" stroke-width="1"/>
<line x1="1050" y1="506.5" x2="1057.5" y2="499.0" stroke="#0C0A48"/>
<text x="748.00" y="504.50" fill="#800000" stroke="#800000" stroke-width="0.3" font-size="6.5" text-anchor="start" font-weight="normal">SG6</text>
<rect x="861.5" y="503.5" width="24.0" height="6.0" stroke="#0C0A48" stroke-width="1" fill="#FFFFE6"/>
<text x="860.00" y="496.00" fill="#000000" stroke="#000000" stroke-width="0.3" font-size="6.5" text-anchor="start" font-weight="normal">R8</text>
<text x="860.00" y="502.00" fill="#000000" stroke="#000000" stroke-width="0.3" font-size="6.5" text-anchor="start" font-weight="normal">200</text>
<text x="1034.50" y="504.50" fill="#800000" stroke="#800000" stroke-width="0.3" font-size="6.5" text-anchor="start" font-weight="normal">SF</text>
<polyline points="891.50,506.50 891.50,498.50 906.50,498.50" stroke="#0C0A48" stroke-width="1" fill="none" stroke-linejoin="miter"/>
<polyline points="929.50,498.50 952.50,498.50" stroke="#0C0A48" stroke-width="1" fill="none" stroke-linejoin="miter"/>
<circle cx="908.8" cy="498.5" r="2" fill="none" stroke="#0000FF" stroke-width="1"/>
<circle cx="926.8" cy="498.5" r="2" fill="none" stroke="#0000FF" stroke-width="1"/>
<rect x="906" y="493.0" width="24" height="1.6" fill="#0000FF"/>
<rect x="915" y="490.0" width="7" height="3.4" fill="#0000FF"/>
<text x="906.00" y="489.50" fill="#000000" stroke="#000000" stroke-width="0.3" font-size="6.5" text-anchor="start" font-weight="normal">s9</text>
<circle cx="891.5" cy="506.5" r="1.3" fill="#0C0A48"/>
<circle cx="952.5" cy="498.5" r="1.1" fill="#0C0A48"/>
<circle cx="1012.5" cy="498.5" r="1.1" fill="#0C0A48"/>
<polyline points="959.50,506.50 959.50,498.50 974.50,498.50" stroke="#0C0A48" stroke-width="1" fill="none" stroke-linejoin="miter"/>
<polyline points="997.50,498.50 1012.50,498.50" stroke="#0C0A48" stroke-width="1" fill="none" stroke-linejoin="miter"/>
<circle cx="976.3" cy="498.5" r="2" fill="none" stroke="#0000FF" stroke-width="1"/>
<circle cx="995" cy="498.5" r="2" fill="none" stroke="#0000FF" stroke-width="1"/>
<rect x="974" y="493.0" width="24" height="1.6" fill="#0000FF"/>
<rect x="983" y="490.0" width="7" height="3.4" fill="#0000FF"/>
<text x="974.50" y="489.50" fill="#000000" stroke="#000000" stroke-width="0.3" font-size="6.5" text-anchor="start" font-weight="normal">s1</text>
<circle cx="959.5" cy="506.5" r="1.3" fill="#0C0A48"/>
<line x1="740" y1="538.0" x2="748.5" y2="529.5" stroke="#0C0A48"/>
<line x1="748.00" y1="529.50" x2="1050.00" y2="529.50" stroke="#0C0A48" stroke-width="1"/>
<line x1="1050" y1="529.5" x2="1057.5" y2="522.0" stroke="#0C0A48"/>
<text x="748.00" y="527.50" fill="#800000" stroke="#800000" stroke-width="0.3" font-size="6.5" text-anchor="start" font-weight="normal">SG7</text>
<rect x="861.5" y="526.5" width="24.0" height="6.0" stroke="#0C0A48" stroke-width="1" fill="#FFFFE6"/>
<text x="860.00" y="519.00" fill="#000000" stroke="#000000" stroke-width="0.3" font-size="6.5" text-anchor="start" font-weight="normal">R9</text>
<text x="860.00" y="525.00" fill="#000000" stroke="#000000" stroke-width="0.3" font-size="6.5" text-anchor="start" font-weight="normal">200</text>
<text x="1034.50" y="527.50" fill="#800000" stroke="#800000" stroke-width="0.3" font-size="6.5" text-anchor="start" font-weight="normal">SG</text>
<polyline points="891.50,529.50 891.50,521.50 906.50,521.50" stroke="#0C0A48" stroke-width="1" fill="none" stroke-linejoin="miter"/>
<polyline points="929.50,521.50 952.50,521.50" stroke="#0C0A48" stroke-width="1" fill="none" stroke-linejoin="miter"/>
<circle cx="908.8" cy="521.5" r="2" fill="none" stroke="#0000FF" stroke-width="1"/>
<circle cx="926.8" cy="521.5" r="2" fill="none" stroke="#0000FF" stroke-width="1"/>
<rect x="906" y="516.0" width="24" height="1.6" fill="#0000FF"/>
<rect x="915" y="513.0" width="7" height="3.4" fill="#0000FF"/>
<text x="906.00" y="512.50" fill="#000000" stroke="#000000" stroke-width="0.3" font-size="6.5" text-anchor="start" font-weight="normal">S8</text>
<circle cx="891.5" cy="529.5" r="1.3" fill="#0C0A48"/>
<circle cx="952.5" cy="521.5" r="1.1" fill="#0C0A48"/>
<circle cx="1012.5" cy="521.5" r="1.1" fill="#0C0A48"/>
<polyline points="959.50,529.50 959.50,521.50 974.50,521.50" stroke="#0C0A48" stroke-width="1" fill="none" stroke-linejoin="miter"/>
<polyline points="997.50,521.50 1012.50,521.50" stroke="#0C0A48" stroke-width="1" fill="none" stroke-linejoin="miter"/>
<circle cx="976.3" cy="521.5" r="2" fill="none" stroke="#0000FF" stroke-width="1"/>
<circle cx="995" cy="521.5" r="2" fill="none" stroke="#0000FF" stroke-width="1"/>
<rect x="974" y="516.0" width="24" height="1.6" fill="#0000FF"/>
<rect x="983" y="513.0" width="7" height="3.4" fill="#0000FF"/>
<text x="974.50" y="512.50" fill="#000000" stroke="#000000" stroke-width="0.3" font-size="6.5" text-anchor="start" font-weight="normal">S0</text>
<circle cx="959.5" cy="529.5" r="1.3" fill="#0C0A48"/>
<line x1="952.50" y1="325.00" x2="952.50" y2="522.00" stroke="#0C0A48" stroke-width="1"/>
<line x1="1012.50" y1="325.00" x2="1012.50" y2="522.00" stroke="#0C0A48" stroke-width="1"/>
<polyline points="907.50,295.50 952.50,295.50 952.50,302.50" stroke="#0C0A48" stroke-width="1" fill="none" stroke-linejoin="miter"/>
<polyline points="982.50,295.50 1012.50,295.50 1012.50,302.50" stroke="#0C0A48" stroke-width="1" fill="none" stroke-linejoin="miter"/>
<rect x="949.5" y="302.5" width="6.0" height="23.0" stroke="#0C0A48" stroke-width="1" fill="#FFFFE6"/>
<rect x="1010.5" y="302.5" width="6.0" height="23.0" stroke="#0C0A48" stroke-width="1" fill="#FFFFE6"/>
<text x="955.50" y="308.50" fill="#000000" stroke="#000000" stroke-width="0.3" font-size="6.5" text-anchor="start" font-weight="normal">R10</text>
<text x="955.50" y="316.50" fill="#000000" stroke="#000000" stroke-width="0.3" font-size="6.5" text-anchor="start" font-weight="normal">10K</text>
<text x="1016.00" y="308.50" fill="#000000" stroke="#000000" stroke-width="0.3" font-size="6.5" text-anchor="start" font-weight="normal">R11</text>
<text x="1016.00" y="316.50" fill="#000000" stroke="#000000" stroke-width="0.3" font-size="6.5" text-anchor="start" font-weight="normal">10K</text>
<text x="921.50" y="294.00" fill="#800000" stroke="#800000" stroke-width="0.3" font-size="6.5" text-anchor="start" font-weight="normal">B7</text>
<text x="982.00" y="294.00" fill="#800000" stroke="#800000" stroke-width="0.3" font-size="6.5" text-anchor="start" font-weight="normal">B8</text>
<line x1="823.50" y1="370.00" x2="823.50" y2="597.00" stroke="#0C0A48" stroke-width="1"/>
<circle cx="823.5" cy="370.5" r="1.3" fill="#0C0A48"/>
<line x1="816.50" y1="393.00" x2="816.50" y2="597.00" stroke="#0C0A48" stroke-width="1"/>
<circle cx="816.5" cy="393.5" r="1.3" fill="#0C0A48"/>
<line x1="808.50" y1="416.00" x2="808.50" y2="597.00" stroke="#0C0A48" stroke-width="1"/>
<circle cx="808.5" cy="416.5" r="1.3" fill="#0C0A48"/>
<line x1="801.50" y1="438.00" x2="801.50" y2="597.00" stroke="#0C0A48" stroke-width="1"/>
<circle cx="801.5" cy="438.5" r="1.3" fill="#0C0A48"/>
<line x1="793.50" y1="461.00" x2="793.50" y2="597.00" stroke="#0C0A48" stroke-width="1"/>
<circle cx="793.5" cy="461.5" r="1.3" fill="#0C0A48"/>
<line x1="786.50" y1="484.00" x2="786.50" y2="597.00" stroke="#0C0A48" stroke-width="1"/>
<circle cx="786.5" cy="484.5" r="1.3" fill="#0C0A48"/>
<line x1="778.50" y1="506.00" x2="778.50" y2="597.00" stroke="#0C0A48" stroke-width="1"/>
<circle cx="778.5" cy="506.5" r="1.3" fill="#0C0A48"/>
<line x1="770.50" y1="529.00" x2="770.50" y2="597.00" stroke="#0C0A48" stroke-width="1"/>
<circle cx="770.5" cy="529.5" r="1.3" fill="#0C0A48"/>
<rect x="763.5" y="597.5" width="74.0" height="14.0" stroke="#800000" stroke-width="1" fill="#FFFFB0"/>
<text x="770.80" y="604.00" fill="#000000" stroke="#000000" stroke-width="0.3" font-size="5.5" text-anchor="middle" font-weight="normal" transform="rotate(-90 770.80 604.00)">9</text>
<text x="778.80" y="604.00" fill="#000000" stroke="#000000" stroke-width="0.3" font-size="5.5" text-anchor="middle" font-weight="normal" transform="rotate(-90 778.80 604.00)">8</text>
<text x="786.80" y="604.00" fill="#000000" stroke="#000000" stroke-width="0.3" font-size="5.5" text-anchor="middle" font-weight="normal" transform="rotate(-90 786.80 604.00)">7</text>
<text x="793.80" y="604.00" fill="#000000" stroke="#000000" stroke-width="0.3" font-size="5.5" text-anchor="middle" font-weight="normal" transform="rotate(-90 793.80 604.00)">6</text>
<text x="801.80" y="604.00" fill="#000000" stroke="#000000" stroke-width="0.3" font-size="5.5" text-anchor="middle" font-weight="normal" transform="rotate(-90 801.80 604.00)">5</text>
<text x="808.80" y="604.00" fill="#000000" stroke="#000000" stroke-width="0.3" font-size="5.5" text-anchor="middle" font-weight="normal" transform="rotate(-90 808.80 604.00)">4</text>
<text x="816.80" y="604.00" fill="#000000" stroke="#000000" stroke-width="0.3" font-size="5.5" text-anchor="middle" font-weight="normal" transform="rotate(-90 816.80 604.00)">3</text>
<text x="823.80" y="604.00" fill="#000000" stroke="#000000" stroke-width="0.3" font-size="5.5" text-anchor="middle" font-weight="normal" transform="rotate(-90 823.80 604.00)">2</text>
<text x="831.80" y="604.00" fill="#000000" stroke="#000000" stroke-width="0.3" font-size="5.5" text-anchor="middle" font-weight="normal" transform="rotate(-90 831.80 604.00)">1</text>
<polyline points="832.50,597.50 832.50,590.50 861.50,590.50 861.50,605.50" stroke="#0C0A48" stroke-width="1" fill="none" stroke-linejoin="miter"/>
<line x1="861.50" y1="601.00" x2="861.50" y2="605.00" stroke="#800000" stroke-width="1"/>
<line x1="854.00" y1="605.50" x2="868.00" y2="605.50" stroke="#800000" stroke-width="1"/>
<line x1="857.00" y1="608.50" x2="866.00" y2="608.50" stroke="#800000" stroke-width="1"/>
<line x1="860.00" y1="611.50" x2="864.00" y2="611.50" stroke="#800000" stroke-width="1"/>
<text x="763.00" y="619.00" fill="#00005A" stroke="#00005A" stroke-width="0.3" font-size="6.5" text-anchor="start" font-weight="normal">RN1</text>
<text x="786.00" y="619.00" fill="#00005A" stroke="#00005A" stroke-width="0.3" font-size="6.5" text-anchor="start" font-weight="normal">100K*8</text>
<rect x="604.5" y="280.5" width="52.0" height="112.0" stroke="#800000" stroke-width="1" fill="#FFFFB0"/>
<line x1="566.00" y1="287.50" x2="604.00" y2="287.50" stroke="#0C0A48" stroke-width="1"/>
<line x1="589.00" y1="287.50" x2="604.00" y2="287.50" stroke="#000000" stroke-width="1"/>
<text x="593.00" y="286.00" fill="#000000" stroke="#000000" stroke-width="0.3" font-size="6.5" text-anchor="end" font-weight="normal">1</text>
<text x="609.00" y="290.00" fill="#000000" stroke="#000000" stroke-width="0.3" font-size="6.5" text-anchor="start" font-weight="normal">VDD</text>
<line x1="566.00" y1="295.50" x2="604.00" y2="295.50" stroke="#0C0A48" stroke-width="1"/>
<line x1="589.00" y1="295.50" x2="604.00" y2="295.50" stroke="#000000" stroke-width="1"/>
<text x="593.00" y="294.00" fill="#000000" stroke="#000000" stroke-width="0.3" font-size="6.5" text-anchor="end" font-weight="normal">2</text>
<text x="609.00" y="298.00" fill="#000000" stroke="#000000" stroke-width="0.3" font-size="6.5" text-anchor="start" font-weight="normal">VDD</text>
<line x1="589.00" y1="302.50" x2="604.00" y2="302.50" stroke="#000000" stroke-width="1"/>
<line x1="589.00" y1="302.50" x2="604.00" y2="302.50" stroke="#000000" stroke-width="1"/>
<text x="593.00" y="301.00" fill="#000000" stroke="#000000" stroke-width="0.3" font-size="6.5" text-anchor="end" font-weight="normal">3</text>
<text x="609.00" y="305.00" fill="#000000" stroke="#000000" stroke-width="0.3" font-size="6.5" text-anchor="start" font-weight="normal">NC</text>
<line x1="559.00" y1="310.50" x2="604.00" y2="310.50" stroke="#0C0A48" stroke-width="1"/>
<line x1="589.00" y1="310.50" x2="604.00" y2="310.50" stroke="#000000" stroke-width="1"/>
<text x="593.00" y="309.00" fill="#000000" stroke="#000000" stroke-width="0.3" font-size="6.5" text-anchor="end" font-weight="normal">4</text>
<text x="609.00" y="313.00" fill="#000000" stroke="#000000" stroke-width="0.3" font-size="6.5" text-anchor="start" font-weight="normal">VSS</text>
<line x1="589.00" y1="317.50" x2="604.00" y2="317.50" stroke="#000000" stroke-width="1"/>
<line x1="589.00" y1="317.50" x2="604.00" y2="317.50" stroke="#000000" stroke-width="1"/>
<text x="593.00" y="316.00" fill="#000000" stroke="#000000" stroke-width="0.3" font-size="6.5" text-anchor="end" font-weight="normal">5</text>
<text x="609.00" y="320.00" fill="#000000" stroke="#000000" stroke-width="0.3" font-size="6.5" text-anchor="start" font-weight="normal">NC</text>
<line x1="500.00" y1="325.50" x2="604.00" y2="325.50" stroke="#0C0A48" stroke-width="1"/>
<line x1="589.00" y1="325.50" x2="604.00" y2="325.50" stroke="#000000" stroke-width="1"/>
<text x="593.00" y="324.00" fill="#000000" stroke="#000000" stroke-width="0.3" font-size="6.5" text-anchor="end" font-weight="normal">6</text>
<text x="609.00" y="328.00" fill="#000000" stroke="#000000" stroke-width="0.3" font-size="6.5" text-anchor="start" font-weight="normal">CS</text>
<line x1="491" y1="317.5" x2="500" y2="325.5" stroke="#0C0A48"/>
<line x1="500.00" y1="332.50" x2="604.00" y2="332.50" stroke="#0C0A48" stroke-width="1"/>
<line x1="589.00" y1="332.50" x2="604.00" y2="332.50" stroke="#000000" stroke-width="1"/>
<text x="593.00" y="331.00" fill="#000000" stroke="#000000" stroke-width="0.3" font-size="6.5" text-anchor="end" font-weight="normal">7</text>
<text x="609.00" y="335.00" fill="#000000" stroke="#000000" stroke-width="0.3" font-size="6.5" text-anchor="start" font-weight="normal">CLK</text>
<line x1="491" y1="324.5" x2="500" y2="332.5" stroke="#0C0A48"/>
<line x1="500.00" y1="340.50" x2="604.00" y2="340.50" stroke="#0C0A48" stroke-width="1"/>
<line x1="589.00" y1="340.50" x2="604.00" y2="340.50" stroke="#000000" stroke-width="1"/>
<text x="593.00" y="339.00" fill="#000000" stroke="#000000" stroke-width="0.3" font-size="6.5" text-anchor="end" font-weight="normal">8</text>
<text x="609.00" y="343.00" fill="#000000" stroke="#000000" stroke-width="0.3" font-size="6.5" text-anchor="start" font-weight="normal">DATA</text>
<line x1="491" y1="332.5" x2="500" y2="340.5" stroke="#0C0A48"/>
<line x1="500.00" y1="348.50" x2="604.00" y2="348.50" stroke="#0C0A48" stroke-width="1"/>
<line x1="589.00" y1="348.50" x2="604.00" y2="348.50" stroke="#000000" stroke-width="1"/>
<text x="593.00" y="347.00" fill="#000000" stroke="#000000" stroke-width="0.3" font-size="6.5" text-anchor="end" font-weight="normal">9</text>
<text x="609.00" y="351.00" fill="#000000" stroke="#000000" stroke-width="0.3" font-size="6.5" text-anchor="start" font-weight="normal">KEY</text>
<line x1="491" y1="340.5" x2="500" y2="348.5" stroke="#0C0A48"/>
<line x1="567.00" y1="355.50" x2="604.00" y2="355.50" stroke="#0C0A48" stroke-width="1"/>
<line x1="589.00" y1="355.50" x2="604.00" y2="355.50" stroke="#000000" stroke-width="1"/>
<text x="593.00" y="354.00" fill="#000000" stroke="#000000" stroke-width="0.3" font-size="6.5" text-anchor="end" font-weight="normal">10</text>
<text x="609.00" y="358.00" fill="#000000" stroke="#000000" stroke-width="0.3" font-size="6.5" text-anchor="start" font-weight="normal">SG</text>
<line x1="559.5" y1="363.5" x2="567.5" y2="355.5" stroke="#0C0A48"/>
<text x="574.00" y="354.00" fill="#800000" stroke="#800000" stroke-width="0.3" font-size="6.5" text-anchor="start" font-weight="normal">SG0</text>
<line x1="567.00" y1="363.50" x2="604.00" y2="363.50" stroke="#0C0A48" stroke-width="1"/>
<line x1="589.00" y1="363.50" x2="604.00" y2="363.50" stroke="#000000" stroke-width="1"/>
<text x="593.00" y="362.00" fill="#000000" stroke="#000000" stroke-width="0.3" font-size="6.5" text-anchor="end" font-weight="normal">11</text>
<text x="609.00" y="366.00" fill="#000000" stroke="#000000" stroke-width="0.3" font-size="6.5" text-anchor="start" font-weight="normal">SF</text>
<line x1="559.5" y1="371.5" x2="567.5" y2="363.5" stroke="#0C0A48"/>
<text x="574.00" y="362.00" fill="#800000" stroke="#800000" stroke-width="0.3" font-size="6.5" text-anchor="start" font-weight="normal">SG1</text>
<line x1="567.00" y1="370.50" x2="604.00" y2="370.50" stroke="#0C0A48" stroke-width="1"/>
<line x1="589.00" y1="370.50" x2="604.00" y2="370.50" stroke="#000000" stroke-width="1"/>
<text x="593.00" y="369.00" fill="#000000" stroke="#000000" stroke-width="0.3" font-size="6.5" text-anchor="end" font-weight="normal">12</text>
<text x="609.00" y="373.00" fill="#000000" stroke="#000000" stroke-width="0.3" font-size="6.5" text-anchor="start" font-weight="normal">SE</text>
<line x1="559.5" y1="378.5" x2="567.5" y2="370.5" stroke="#0C0A48"/>
<text x="574.00" y="369.00" fill="#800000" stroke="#800000" stroke-width="0.3" font-size="6.5" text-anchor="start" font-weight="normal">SG2</text>
<line x1="567.00" y1="378.50" x2="604.00" y2="378.50" stroke="#0C0A48" stroke-width="1"/>
<line x1="589.00" y1="378.50" x2="604.00" y2="378.50" stroke="#000000" stroke-width="1"/>
<text x="593.00" y="377.00" fill="#000000" stroke="#000000" stroke-width="0.3" font-size="6.5" text-anchor="end" font-weight="normal">13</text>
<text x="609.00" y="381.00" fill="#000000" stroke="#000000" stroke-width="0.3" font-size="6.5" text-anchor="start" font-weight="normal">SD</text>
<line x1="559.5" y1="386.5" x2="567.5" y2="378.5" stroke="#0C0A48"/>
<text x="574.00" y="377.00" fill="#800000" stroke="#800000" stroke-width="0.3" font-size="6.5" text-anchor="start" font-weight="normal">SG3</text>
<line x1="567.00" y1="385.50" x2="604.00" y2="385.50" stroke="#0C0A48" stroke-width="1"/>
<line x1="589.00" y1="385.50" x2="604.00" y2="385.50" stroke="#000000" stroke-width="1"/>
<text x="593.00" y="384.00" fill="#000000" stroke="#000000" stroke-width="0.3" font-size="6.5" text-anchor="end" font-weight="normal">14</text>
<text x="609.00" y="388.00" fill="#000000" stroke="#000000" stroke-width="0.3" font-size="6.5" text-anchor="start" font-weight="normal">SC</text>
<line x1="559.5" y1="393.5" x2="567.5" y2="385.5" stroke="#0C0A48"/>
<text x="574.00" y="384.00" fill="#800000" stroke="#800000" stroke-width="0.3" font-size="6.5" text-anchor="start" font-weight="normal">SG4</text>
<line x1="656.00" y1="287.50" x2="672.00" y2="287.50" stroke="#000000" stroke-width="1"/>
<line x1="672.50" y1="288.00" x2="672.50" y2="288.00" stroke="#0C0A48" stroke-width="1"/>
<text x="669.50" y="286.00" fill="#000000" stroke="#000000" stroke-width="0.3" font-size="6.5" text-anchor="start" font-weight="normal">28</text>
<text x="652.00" y="290.00" fill="#000000" stroke="#000000" stroke-width="0.3" font-size="6.5" text-anchor="end" font-weight="normal">VDD</text>
<line x1="656.00" y1="295.50" x2="672.00" y2="295.50" stroke="#000000" stroke-width="1"/>
<line x1="672.00" y1="295.50" x2="755.00" y2="295.50" stroke="#0C0A48" stroke-width="1"/>
<text x="669.50" y="294.00" fill="#000000" stroke="#000000" stroke-width="0.3" font-size="6.5" text-anchor="start" font-weight="normal">27</text>
<text x="652.00" y="298.00" fill="#000000" stroke="#000000" stroke-width="0.3" font-size="6.5" text-anchor="end" font-weight="normal">RC</text>
<line x1="656.00" y1="302.50" x2="672.00" y2="302.50" stroke="#000000" stroke-width="1"/>
<line x1="672.50" y1="303.00" x2="672.50" y2="303.00" stroke="#0C0A48" stroke-width="1"/>
<text x="669.50" y="301.00" fill="#000000" stroke="#000000" stroke-width="0.3" font-size="6.5" text-anchor="start" font-weight="normal">26</text>
<text x="652.00" y="305.00" fill="#000000" stroke="#000000" stroke-width="0.3" font-size="6.5" text-anchor="end" font-weight="normal">CLKO</text>
<line x1="656.00" y1="310.50" x2="672.00" y2="310.50" stroke="#000000" stroke-width="1"/>
<line x1="672.00" y1="310.50" x2="732.00" y2="310.50" stroke="#0C0A48" stroke-width="1"/>
<text x="669.50" y="309.00" fill="#000000" stroke="#000000" stroke-width="0.3" font-size="6.5" text-anchor="start" font-weight="normal">25</text>
<text x="652.00" y="313.00" fill="#000000" stroke="#000000" stroke-width="0.3" font-size="6.5" text-anchor="end" font-weight="normal">DIG7</text>
<line x1="656.00" y1="317.50" x2="672.00" y2="317.50" stroke="#000000" stroke-width="1"/>
<line x1="672.00" y1="317.50" x2="732.00" y2="317.50" stroke="#0C0A48" stroke-width="1"/>
<text x="669.50" y="316.00" fill="#000000" stroke="#000000" stroke-width="0.3" font-size="6.5" text-anchor="start" font-weight="normal">24</text>
<text x="652.00" y="320.00" fill="#000000" stroke="#000000" stroke-width="0.3" font-size="6.5" text-anchor="end" font-weight="normal">DIG6</text>
<line x1="656.00" y1="325.50" x2="672.00" y2="325.50" stroke="#000000" stroke-width="1"/>
<line x1="672.00" y1="325.50" x2="732.00" y2="325.50" stroke="#0C0A48" stroke-width="1"/>
<text x="669.50" y="324.00" fill="#000000" stroke="#000000" stroke-width="0.3" font-size="6.5" text-anchor="start" font-weight="normal">23</text>
<text x="652.00" y="328.00" fill="#000000" stroke="#000000" stroke-width="0.3" font-size="6.5" text-anchor="end" font-weight="normal">DIG5</text>
<line x1="656.00" y1="332.50" x2="672.00" y2="332.50" stroke="#000000" stroke-width="1"/>
<line x1="672.00" y1="332.50" x2="732.00" y2="332.50" stroke="#0C0A48" stroke-width="1"/>
<text x="669.50" y="331.00" fill="#000000" stroke="#000000" stroke-width="0.3" font-size="6.5" text-anchor="start" font-weight="normal">22</text>
<text x="652.00" y="335.00" fill="#000000" stroke="#000000" stroke-width="0.3" font-size="6.5" text-anchor="end" font-weight="normal">DIG4</text>
<line x1="656.00" y1="340.50" x2="672.00" y2="340.50" stroke="#000000" stroke-width="1"/>
<line x1="672.00" y1="340.50" x2="733.00" y2="340.50" stroke="#0C0A48" stroke-width="1"/>
<text x="669.50" y="339.00" fill="#000000" stroke="#000000" stroke-width="0.3" font-size="6.5" text-anchor="start" font-weight="normal">21</text>
<text x="652.00" y="343.00" fill="#000000" stroke="#000000" stroke-width="0.3" font-size="6.5" text-anchor="end" font-weight="normal">DIG3</text>
<line x1="733" y1="340.5" x2="740" y2="347.5" stroke="#0C0A48"/>
<line x1="656.00" y1="348.50" x2="672.00" y2="348.50" stroke="#000000" stroke-width="1"/>
<line x1="672.00" y1="348.50" x2="733.00" y2="348.50" stroke="#0C0A48" stroke-width="1"/>
<text x="669.50" y="347.00" fill="#000000" stroke="#000000" stroke-width="0.3" font-size="6.5" text-anchor="start" font-weight="normal">20</text>
<text x="652.00" y="351.00" fill="#000000" stroke="#000000" stroke-width="0.3" font-size="6.5" text-anchor="end" font-weight="normal">DIG2</text>
<line x1="733" y1="348.5" x2="740" y2="355.5" stroke="#0C0A48"/>
<line x1="656.00" y1="355.50" x2="672.00" y2="355.50" stroke="#000000" stroke-width="1"/>
<line x1="672.00" y1="355.50" x2="733.00" y2="355.50" stroke="#0C0A48" stroke-width="1"/>
<text x="669.50" y="354.00" fill="#000000" stroke="#000000" stroke-width="0.3" font-size="6.5" text-anchor="start" font-weight="normal">19</text>
<text x="652.00" y="358.00" fill="#000000" stroke="#000000" stroke-width="0.3" font-size="6.5" text-anchor="end" font-weight="normal">DIG1</text>
<line x1="733" y1="355.5" x2="740" y2="362.5" stroke="#0C0A48"/>
<line x1="656.00" y1="363.50" x2="672.00" y2="363.50" stroke="#000000" stroke-width="1"/>
<line x1="672.00" y1="363.50" x2="733.00" y2="363.50" stroke="#0C0A48" stroke-width="1"/>
<text x="669.50" y="362.00" fill="#000000" stroke="#000000" stroke-width="0.3" font-size="6.5" text-anchor="start" font-weight="normal">18</text>
<text x="652.00" y="366.00" fill="#000000" stroke="#000000" stroke-width="0.3" font-size="6.5" text-anchor="end" font-weight="normal">DIG0</text>
<line x1="733" y1="363.5" x2="740" y2="370.5" stroke="#0C0A48"/>
<line x1="656.00" y1="370.50" x2="672.00" y2="370.50" stroke="#000000" stroke-width="1"/>
<line x1="672.00" y1="370.50" x2="733.00" y2="370.50" stroke="#0C0A48" stroke-width="1"/>
<text x="669.50" y="369.00" fill="#000000" stroke="#000000" stroke-width="0.3" font-size="6.5" text-anchor="start" font-weight="normal">17</text>
<text x="652.00" y="373.00" fill="#000000" stroke="#000000" stroke-width="0.3" font-size="6.5" text-anchor="end" font-weight="normal">DP</text>
<line x1="733" y1="370.5" x2="740" y2="377.5" stroke="#0C0A48"/>
<line x1="656.00" y1="378.50" x2="672.00" y2="378.50" stroke="#000000" stroke-width="1"/>
<line x1="672.00" y1="378.50" x2="733.00" y2="378.50" stroke="#0C0A48" stroke-width="1"/>
<text x="669.50" y="377.00" fill="#000000" stroke="#000000" stroke-width="0.3" font-size="6.5" text-anchor="start" font-weight="normal">16</text>
<text x="652.00" y="381.00" fill="#000000" stroke="#000000" stroke-width="0.3" font-size="6.5" text-anchor="end" font-weight="normal">SA</text>
<line x1="733" y1="378.5" x2="740" y2="385.5" stroke="#0C0A48"/>
<line x1="656.00" y1="385.50" x2="672.00" y2="385.50" stroke="#000000" stroke-width="1"/>
<line x1="672.00" y1="385.50" x2="733.00" y2="385.50" stroke="#0C0A48" stroke-width="1"/>
<text x="669.50" y="384.00" fill="#000000" stroke="#000000" stroke-width="0.3" font-size="6.5" text-anchor="start" font-weight="normal">15</text>
<text x="652.00" y="388.00" fill="#000000" stroke="#000000" stroke-width="0.3" font-size="6.5" text-anchor="end" font-weight="normal">SB</text>
<line x1="733" y1="385.5" x2="740" y2="392.5" stroke="#0C0A48"/>
<text x="725.00" y="309.00" fill="#800000" stroke="#800000" stroke-width="0.3" font-size="6.5" text-anchor="start" font-weight="normal">B8</text>
<text x="725.00" y="316.00" fill="#800000" stroke="#800000" stroke-width="0.3" font-size="6.5" text-anchor="start" font-weight="normal">B7</text>
<text x="725.00" y="324.00" fill="#800000" stroke="#800000" stroke-width="0.3" font-size="6.5" text-anchor="start" font-weight="normal">B6</text>
<text x="725.00" y="331.00" fill="#800000" stroke="#800000" stroke-width="0.3" font-size="6.5" text-anchor="start" font-weight="normal">B5</text>
<text x="718.00" y="339.00" fill="#800000" stroke="#800000" stroke-width="0.3" font-size="6.5" text-anchor="start" font-weight="normal">B4</text>
<text x="718.00" y="347.00" fill="#800000" stroke="#800000" stroke-width="0.3" font-size="6.5" text-anchor="start" font-weight="normal">B3</text>
<text x="718.00" y="354.00" fill="#800000" stroke="#800000" stroke-width="0.3" font-size="6.5" text-anchor="start" font-weight="normal">B2</text>
<text x="718.00" y="362.00" fill="#800000" stroke="#800000" stroke-width="0.3" font-size="6.5" text-anchor="start" font-weight="normal">B1</text>
<text x="718.00" y="369.00" fill="#800000" stroke="#800000" stroke-width="0.3" font-size="6.5" text-anchor="start" font-weight="normal">SG0</text>
<text x="718.00" y="377.00" fill="#800000" stroke="#800000" stroke-width="0.3" font-size="6.5" text-anchor="start" font-weight="normal">SG1</text>
<text x="718.00" y="384.00" fill="#800000" stroke="#800000" stroke-width="0.3" font-size="6.5" text-anchor="start" font-weight="normal">SG2</text>
<text x="604.00" y="279.00" fill="#00005A" stroke="#00005A" stroke-width="0.3" font-size="6.5" text-anchor="start" font-weight="normal">IC1</text>
<line x1="609.00" y1="320.50" x2="618.00" y2="320.50" stroke="#000000" stroke-width="1"/>
<line x1="609.00" y1="343.50" x2="623.00" y2="343.50" stroke="#000000" stroke-width="1"/>
<text x="619.00" y="407.00" fill="#00005A" stroke="#00005A" stroke-width="0.3" font-size="6.5" text-anchor="start" font-weight="normal">HD7279</text>
<line x1="562.00" y1="266.50" x2="570.00" y2="266.50" stroke="#800000" stroke-width="1"/>
<text x="566.50" y="264.00" fill="#800000" stroke="#800000" stroke-width="0.3" font-size="6.5" text-anchor="middle" font-weight="normal">VCC1</text>
<polyline points="566.50,266.50 566.50,295.50" stroke="#0C0A48" stroke-width="1" fill="none" stroke-linejoin="miter"/>
<polyline points="566.50,272.50 680.50,272.50" stroke="#0C0A48" stroke-width="1" fill="none" stroke-linejoin="miter"/>
<polyline points="672.50,272.50 672.50,287.50" stroke="#0C0A48" stroke-width="1" fill="none" stroke-linejoin="miter"/>
<rect x="680.5" y="270.5" width="23.0" height="4.0" stroke="#0C0A48" stroke-width="1" fill="#FFFFE6"/>
<polyline points="703.50,272.50 755.50,272.50 755.50,305.50" stroke="#0C0A48" stroke-width="1" fill="none" stroke-linejoin="miter"/>
<circle cx="755.5" cy="295.5" r="1.3" fill="#0C0A48"/>
<rect x="748.5" y="304.5" width="13" height="1.5" fill="#0000FF"/>
<rect x="748.5" y="308" width="13" height="1.5" fill="#0000FF"/>
<polyline points="755.50,309.50 755.50,325.50" stroke="#0C0A48" stroke-width="1" fill="none" stroke-linejoin="miter"/>
<line x1="755.50" y1="321.00" x2="755.50" y2="325.00" stroke="#800000" stroke-width="1"/>
<line x1="748.00" y1="325.50" x2="762.00" y2="325.50" stroke="#800000" stroke-width="1"/>
<line x1="751.00" y1="328.50" x2="760.00" y2="328.50" stroke="#800000" stroke-width="1"/>
<line x1="754.00" y1="331.50" x2="758.00" y2="331.50" stroke="#800000" stroke-width="1"/>
<text x="679.00" y="268.50" fill="#00005A" stroke="#00005A" stroke-width="0.3" font-size="6.5" text-anchor="start" font-weight="normal">R1</text>
<text x="679.50" y="282.00" fill="#00005A" stroke="#00005A" stroke-width="0.3" font-size="6.5" text-anchor="start" font-weight="normal">1 5K</text>
<text x="747.00" y="286.00" fill="#00005A" stroke="#00005A" stroke-width="0.3" font-size="6.5" text-anchor="start" font-weight="normal">C1</text>
<text x="762.50" y="301.00" fill="#00005A" stroke="#00005A" stroke-width="0.3" font-size="6.5" text-anchor="start" font-weight="normal">15</text>
<polyline points="559.50,310.50 559.50,295.50" stroke="#0C0A48" stroke-width="1" fill="none" stroke-linejoin="miter"/>
<line x1="552.00" y1="295.50" x2="566.00" y2="295.50" stroke="#800000" stroke-width="1"/>
<line x1="554.00" y1="292.50" x2="564.00" y2="292.50" stroke="#800000" stroke-width="1"/>
<line x1="557.00" y1="289.50" x2="561.00" y2="289.50" stroke="#800000" stroke-width="1"/>
<polyline points="296.50,265.50 483.50,265.50 491.00,258.00 491.00,212.00" stroke="#000060" stroke-width="2.5" fill="none" stroke-linejoin="miter"/>
<polyline points="483.50,265.50 491.00,273.00 491.00,340.00" stroke="#000060" stroke-width="2.5" fill="none" stroke-linejoin="miter"/>
<polyline points="296.50,265.50 287.00,273.00 287.00,349.00" stroke="#000060" stroke-width="2.5" fill="none" stroke-linejoin="miter"/>
<rect x="363.5" y="189.5" width="44.0" height="37.0" stroke="#800000" stroke-width="1" fill="#FFFFB0"/>
<line x1="340.00" y1="197.50" x2="363.00" y2="197.50" stroke="#000000" stroke-width="1"/>
<line x1="407.00" y1="197.50" x2="430.00" y2="197.50" stroke="#000000" stroke-width="1"/>
<text x="350.50" y="196.00" fill="#000000" stroke="#000000" stroke-width="0.3" font-size="6.5" text-anchor="end" font-weight="normal">1</text>
<text x="419.00" y="196.00" fill="#000000" stroke="#000000" stroke-width="0.3" font-size="6.5" text-anchor="start" font-weight="normal">8</text>
<line x1="340.00" y1="204.50" x2="363.00" y2="204.50" stroke="#000000" stroke-width="1"/>
<line x1="407.00" y1="204.50" x2="430.00" y2="204.50" stroke="#000000" stroke-width="1"/>
<text x="350.50" y="203.00" fill="#000000" stroke="#000000" stroke-width="0.3" font-size="6.5" text-anchor="end" font-weight="normal">2</text>
<text x="419.00" y="203.00" fill="#000000" stroke="#000000" stroke-width="0.3" font-size="6.5" text-anchor="start" font-weight="normal">7</text>
<line x1="340.00" y1="212.50" x2="363.00" y2="212.50" stroke="#000000" stroke-width="1"/>
<line x1="407.00" y1="212.50" x2="430.00" y2="212.50" stroke="#000000" stroke-width="1"/>
<text x="350.50" y="211.00" fill="#000000" stroke="#000000" stroke-width="0.3" font-size="6.5" text-anchor="end" font-weight="normal">3</text>
<text x="419.00" y="211.00" fill="#000000" stroke="#000000" stroke-width="0.3" font-size="6.5" text-anchor="start" font-weight="normal">6</text>
<line x1="340.00" y1="219.50" x2="363.00" y2="219.50" stroke="#000000" stroke-width="1"/>
<line x1="407.00" y1="219.50" x2="430.00" y2="219.50" stroke="#000000" stroke-width="1"/>
<text x="350.50" y="218.00" fill="#000000" stroke="#000000" stroke-width="0.3" font-size="6.5" text-anchor="end" font-weight="normal">4</text>
<text x="419.00" y="218.00" fill="#000000" stroke="#000000" stroke-width="0.3" font-size="6.5" text-anchor="start" font-weight="normal">5</text>
<text x="367.00" y="200.00" fill="#000000" stroke="#000000" stroke-width="0.3" font-size="6.5" text-anchor="start" font-weight="normal">VCC2</text>
<text x="404.00" y="200.00" fill="#000000" stroke="#000000" stroke-width="0.3" font-size="6.5" text-anchor="end" font-weight="normal">VCC1</text>
<text x="367.00" y="207.00" fill="#000000" stroke="#000000" stroke-width="0.3" font-size="6.5" text-anchor="start" font-weight="normal">OSC</text>
<text x="404.00" y="207.00" fill="#000000" stroke="#000000" stroke-width="0.3" font-size="6.5" text-anchor="end" font-weight="normal">CLK</text>
<text x="367.00" y="215.00" fill="#000000" stroke="#000000" stroke-width="0.3" font-size="6.5" text-anchor="start" font-weight="normal">OSC</text>
<text x="404.00" y="215.00" fill="#000000" stroke="#000000" stroke-width="0.3" font-size="6.5" text-anchor="end" font-weight="normal">I/O</text>
<text x="367.00" y="222.00" fill="#000000" stroke="#000000" stroke-width="0.3" font-size="6.5" text-anchor="start" font-weight="normal">GND</text>
<text x="404.00" y="222.00" fill="#000000" stroke="#000000" stroke-width="0.3" font-size="6.5" text-anchor="end" font-weight="normal">RST</text>
<line x1="392.00" y1="215.50" x2="405.00" y2="215.50" stroke="#000000" stroke-width="1"/>
<text x="363.00" y="188.00" fill="#00005A" stroke="#00005A" stroke-width="0.3" font-size="6.5" text-anchor="start" font-weight="normal">IC1</text>
<text x="363.00" y="233.00" fill="#00005A" stroke="#00005A" stroke-width="0.3" font-size="6.5" text-anchor="start" font-weight="normal">DS1302</text>
<line x1="430.00" y1="204.50" x2="484.00" y2="204.50" stroke="#0C0A48" stroke-width="1"/>
<line x1="483.5" y1="204.5" x2="491" y2="212.0" stroke="#0C0A48"/>
<line x1="430.00" y1="212.50" x2="484.00" y2="212.50" stroke="#0C0A48" stroke-width="1"/>
<line x1="483.5" y1="212.5" x2="491" y2="220.0" stroke="#0C0A48"/>
<line x1="430.00" y1="219.50" x2="484.00" y2="219.50" stroke="#0C0A48" stroke-width="1"/>
<line x1="483.5" y1="219.5" x2="491" y2="227.0" stroke="#0C0A48"/>
<line x1="336.00" y1="166.50" x2="344.00" y2="166.50" stroke="#800000" stroke-width="1"/>
<text x="340.50" y="164.70" fill="#800000" stroke="#800000" stroke-width="0.3" font-size="6.5" text-anchor="middle" font-weight="normal">VCC</text>
<polyline points="340.50,166.50 340.50,197.50 363.50,197.50" stroke="#0C0A48" stroke-width="1" fill="none" stroke-linejoin="miter"/>
<polyline points="363.50,219.50 340.50,219.50 340.50,249.50" stroke="#0C0A48" stroke-width="1" fill="none" stroke-linejoin="miter"/>
<line x1="340.50" y1="246.00" x2="340.50" y2="250.00" stroke="#800000" stroke-width="1"/>
<line x1="334.00" y1="249.50" x2="348.00" y2="249.50" stroke="#800000" stroke-width="1"/>
<line x1="336.00" y1="252.50" x2="345.00" y2="252.50" stroke="#800000" stroke-width="1"/>
<line x1="338.00" y1="255.50" x2="342.00" y2="255.50" stroke="#800000" stroke-width="1"/>
<polyline points="318.50,206.50 318.50,197.50 332.50,197.50 332.50,227.50 318.50,227.50 318.50,218.50" stroke="#0C0A48" stroke-width="1" fill="none" stroke-linejoin="miter"/>
<line x1="332.00" y1="204.50" x2="363.00" y2="204.50" stroke="#0C0A48" stroke-width="1"/>
<line x1="325.00" y1="212.50" x2="363.00" y2="212.50" stroke="#0C0A48" stroke-width="1"/>
<rect x="314" y="205.8" width="8.5" height="1.3" fill="#000090"/>
<rect x="314" y="217.8" width="8.5" height="1.3" fill="#000090"/>
<rect x="310.5" y="209.5" width="14.0" height="6.0" stroke="#000090" stroke-width="1" fill="none"/>
<text x="325.00" y="210.50" fill="#00005A" stroke="#00005A" stroke-width="0.3" font-size="6.5" text-anchor="start" font-weight="normal">Y1</text>
<text x="325.00" y="218.00" fill="#00005A" stroke="#00005A" stroke-width="0.3" font-size="6.5" text-anchor="start" font-weight="normal">32768Hz</text>
<polyline points="370.50,166.50 393.50,166.50" stroke="#0C0A48" stroke-width="1" fill="none" stroke-linejoin="miter"/>
<line x1="370.50" y1="159.00" x2="370.50" y2="174.00" stroke="#800000" stroke-width="1"/>
<line x1="368.50" y1="162.00" x2="368.50" y2="172.00" stroke="#800000" stroke-width="1"/>
<line x1="366.50" y1="164.00" x2="366.50" y2="169.00" stroke="#800000" stroke-width="1"/>
<rect x="393" y="162" width="2" height="10" fill="#0000C0"/>
<line x1="398.50" y1="160.00" x2="398.50" y2="175.00" stroke="#0000C0" stroke-width="1"/>
<line x1="403.50" y1="162.00" x2="403.50" y2="172.00" stroke="#0000C0" stroke-width="1"/>
<line x1="408.50" y1="160.00" x2="408.50" y2="175.00" stroke="#0000C0" stroke-width="1"/>
<polyline points="408.50,166.50 431.50,166.50 431.50,197.50 407.50,197.50" stroke="#0C0A48" stroke-width="1" fill="none" stroke-linejoin="miter"/>
<text x="393.00" y="157.00" fill="#00005A" stroke="#00005A" stroke-width="0.3" font-size="6.5" text-anchor="start" font-weight="normal">B1</text>
<text x="393.00" y="181.50" fill="#00005A" stroke="#00005A" stroke-width="0.3" font-size="6.5" text-anchor="start" font-weight="normal">3 6V</text>
<polygon points="332.50,333.00 340.00,325.50 423.50,325.50 423.50,422.50 332.50,422.50" stroke="#0C0A48" stroke-width="1" fill="none" stroke-linejoin="miter"/>
<line x1="340.50" y1="303.00" x2="340.50" y2="325.00" stroke="#000000" stroke-width="1"/>
<line x1="340.50" y1="423.00" x2="340.50" y2="446.00" stroke="#000000" stroke-width="1"/>
<text x="339.00" y="311.00" fill="#000000" stroke="#000000" stroke-width="0.3" font-size="6" text-anchor="middle" font-weight="normal" transform="rotate(-90 339.00 311.00)">44</text>
<text x="339.00" y="437.00" fill="#000000" stroke="#000000" stroke-width="0.3" font-size="6" text-anchor="middle" font-weight="normal" transform="rotate(-90 339.00 437.00)">12</text>
<line x1="347.50" y1="303.00" x2="347.50" y2="325.00" stroke="#000000" stroke-width="1"/>
<line x1="347.50" y1="423.00" x2="347.50" y2="446.00" stroke="#000000" stroke-width="1"/>
<text x="346.00" y="311.00" fill="#000000" stroke="#000000" stroke-width="0.3" font-size="6" text-anchor="middle" font-weight="normal" transform="rotate(-90 346.00 311.00)">43</text>
<text x="346.00" y="437.00" fill="#000000" stroke="#000000" stroke-width="0.3" font-size="6" text-anchor="middle" font-weight="normal" transform="rotate(-90 346.00 437.00)">13</text>
<line x1="355.50" y1="303.00" x2="355.50" y2="325.00" stroke="#000000" stroke-width="1"/>
<line x1="355.50" y1="423.00" x2="355.50" y2="446.00" stroke="#000000" stroke-width="1"/>
<text x="354.00" y="311.00" fill="#000000" stroke="#000000" stroke-width="0.3" font-size="6" text-anchor="middle" font-weight="normal" transform="rotate(-90 354.00 311.00)">42</text>
<text x="354.00" y="437.00" fill="#000000" stroke="#000000" stroke-width="0.3" font-size="6" text-anchor="middle" font-weight="normal" transform="rotate(-90 354.00 437.00)">14</text>
<line x1="363.50" y1="303.00" x2="363.50" y2="325.00" stroke="#000000" stroke-width="1"/>
<line x1="363.50" y1="423.00" x2="363.50" y2="446.00" stroke="#000000" stroke-width="1"/>
<text x="362.00" y="311.00" fill="#000000" stroke="#000000" stroke-width="0.3" font-size="6" text-anchor="middle" font-weight="normal" transform="rotate(-90 362.00 311.00)">41</text>
<text x="362.00" y="437.00" fill="#000000" stroke="#000000" stroke-width="0.3" font-size="6" text-anchor="middle" font-weight="normal" transform="rotate(-90 362.00 437.00)">15</text>
<line x1="370.50" y1="303.00" x2="370.50" y2="325.00" stroke="#000000" stroke-width="1"/>
<line x1="370.50" y1="423.00" x2="370.50" y2="446.00" stroke="#000000" stroke-width="1"/>
<text x="369.00" y="311.00" fill="#000000" stroke="#000000" stroke-width="0.3" font-size="6" text-anchor="middle" font-weight="normal" transform="rotate(-90 369.00 311.00)">40</text>
<text x="369.00" y="437.00" fill="#000000" stroke="#000000" stroke-width="0.3" font-size="6" text-anchor="middle" font-weight="normal" transform="rotate(-90 369.00 437.00)">16</text>
<line x1="378.50" y1="303.00" x2="378.50" y2="325.00" stroke="#000000" stroke-width="1"/>
<line x1="378.50" y1="423.00" x2="378.50" y2="446.00" stroke="#000000" stroke-width="1"/>
<text x="377.00" y="311.00" fill="#000000" stroke="#000000" stroke-width="0.3" font-size="6" text-anchor="middle" font-weight="normal" transform="rotate(-90 377.00 311.00)">39</text>
<text x="377.00" y="437.00" fill="#000000" stroke="#000000" stroke-width="0.3" font-size="6" text-anchor="middle" font-weight="normal" transform="rotate(-90 377.00 437.00)">17</text>
<line x1="385.50" y1="303.00" x2="385.50" y2="325.00" stroke="#000000" stroke-width="1"/>
<line x1="385.50" y1="423.00" x2="385.50" y2="446.00" stroke="#000000" stroke-width="1"/>
<text x="384.00" y="311.00" fill="#000000" stroke="#000000" stroke-width="0.3" font-size="6" text-anchor="middle" font-weight="normal" transform="rotate(-90 384.00 311.00)">38</text>
<text x="384.00" y="437.00" fill="#000000" stroke="#000000" stroke-width="0.3" font-size="6" text-anchor="middle" font-weight="normal" transform="rotate(-90 384.00 437.00)">18</text>
<line x1="393.50" y1="303.00" x2="393.50" y2="325.00" stroke="#000000" stroke-width="1"/>
<line x1="393.50" y1="423.00" x2="393.50" y2="446.00" stroke="#000000" stroke-width="1"/>
<text x="392.00" y="311.00" fill="#000000" stroke="#000000" stroke-width="0.3" font-size="6" text-anchor="middle" font-weight="normal" transform="rotate(-90 392.00 311.00)">37</text>
<text x="392.00" y="437.00" fill="#000000" stroke="#000000" stroke-width="0.3" font-size="6" text-anchor="middle" font-weight="normal" transform="rotate(-90 392.00 437.00)">19</text>
<line x1="400.50" y1="303.00" x2="400.50" y2="325.00" stroke="#000000" stroke-width="1"/>
<line x1="400.50" y1="423.00" x2="400.50" y2="446.00" stroke="#000000" stroke-width="1"/>
<text x="399.00" y="311.00" fill="#000000" stroke="#000000" stroke-width="0.3" font-size="6" text-anchor="middle" font-weight="normal" transform="rotate(-90 399.00 311.00)">36</text>
<text x="399.00" y="437.00" fill="#000000" stroke="#000000" stroke-width="0.3" font-size="6" text-anchor="middle" font-weight="normal" transform="rotate(-90 399.00 437.00)">20</text>
<line x1="408.50" y1="303.00" x2="408.50" y2="325.00" stroke="#000000" stroke-width="1"/>
<line x1="408.50" y1="423.00" x2="408.50" y2="446.00" stroke="#000000" stroke-width="1"/>
<text x="407.00" y="311.00" fill="#000000" stroke="#000000" stroke-width="0.3" font-size="6" text-anchor="middle" font-weight="normal" transform="rotate(-90 407.00 311.00)">35</text>
<text x="407.00" y="437.00" fill="#000000" stroke="#000000" stroke-width="0.3" font-size="6" text-anchor="middle" font-weight="normal" transform="rotate(-90 407.00 437.00)">21</text>
<line x1="415.50" y1="303.00" x2="415.50" y2="325.00" stroke="#000000" stroke-width="1"/>
<line x1="415.50" y1="423.00" x2="415.50" y2="446.00" stroke="#000000" stroke-width="1"/>
<text x="414.00" y="311.00" fill="#000000" stroke="#000000" stroke-width="0.3" font-size="6" text-anchor="middle" font-weight="normal" transform="rotate(-90 414.00 311.00)">34</text>
<text x="414.00" y="437.00" fill="#000000" stroke="#000000" stroke-width="0.3" font-size="6" text-anchor="middle" font-weight="normal" transform="rotate(-90 414.00 437.00)">22</text>
<line x1="340.50" y1="272.00" x2="340.50" y2="303.00" stroke="#0C0A48" stroke-width="1"/>
<line x1="340.5" y1="272" x2="333.5" y2="266" stroke="#0C0A48"/>
<line x1="347.50" y1="272.00" x2="347.50" y2="303.00" stroke="#0C0A48" stroke-width="1"/>
<line x1="347.5" y1="272" x2="340.5" y2="266" stroke="#0C0A48"/>
<line x1="355.50" y1="272.00" x2="355.50" y2="303.00" stroke="#0C0A48" stroke-width="1"/>
<line x1="355.5" y1="272" x2="348.5" y2="266" stroke="#0C0A48"/>
<line x1="363.50" y1="272.00" x2="363.50" y2="303.00" stroke="#0C0A48" stroke-width="1"/>
<line x1="363.5" y1="272" x2="356.5" y2="266" stroke="#0C0A48"/>
<line x1="370.50" y1="272.00" x2="370.50" y2="303.00" stroke="#0C0A48" stroke-width="1"/>
<line x1="370.5" y1="272" x2="363.5" y2="266" stroke="#0C0A48"/>
<polyline points="385.50,280.50 385.50,303.50" stroke="#0C0A48" stroke-width="1" fill="none" stroke-linejoin="miter"/>
<line x1="382.00" y1="280.50" x2="390.00" y2="280.50" stroke="#800000" stroke-width="1"/>
<text x="385.50" y="279.00" fill="#800000" stroke="#800000" stroke-width="0.3" font-size="6.5" text-anchor="middle" font-weight="normal">VCC</text>
<line x1="393.50" y1="282.00" x2="393.50" y2="303.00" stroke="#0C0A48" stroke-width="1"/>
<line x1="400.50" y1="282.00" x2="400.50" y2="303.00" stroke="#0C0A48" stroke-width="1"/>
<text x="393.00" y="286.50" fill="#800000" stroke="#800000" stroke-width="0.3" font-size="6.5" text-anchor="start" font-weight="normal">DRTX</text>
<text x="343.00" y="331.00" fill="#000000" stroke="#000000" stroke-width="0.3" font-size="6" text-anchor="end" font-weight="normal" transform="rotate(-90 343.00 331.00)">P1 4</text>
<text x="350.00" y="331.00" fill="#000000" stroke="#000000" stroke-width="0.3" font-size="6" text-anchor="end" font-weight="normal" transform="rotate(-90 350.00 331.00)">P1 3</text>
<text x="358.00" y="331.00" fill="#000000" stroke="#000000" stroke-width="0.3" font-size="6" text-anchor="end" font-weight="normal" transform="rotate(-90 358.00 331.00)">P1 2</text>
<text x="366.00" y="331.00" fill="#000000" stroke="#000000" stroke-width="0.3" font-size="6" text-anchor="end" font-weight="normal" transform="rotate(-90 366.00 331.00)">P1 1</text>
<text x="373.00" y="331.00" fill="#000000" stroke="#000000" stroke-width="0.3" font-size="6" text-anchor="end" font-weight="normal" transform="rotate(-90 373.00 331.00)">P1 0</text>
<text x="381.00" y="331.00" fill="#000000" stroke="#000000" stroke-width="0.3" font-size="6" text-anchor="end" font-weight="normal" transform="rotate(-90 381.00 331.00)">NC</text>
<text x="388.00" y="331.00" fill="#000000" stroke="#000000" stroke-width="0.3" font-size="6" text-anchor="end" font-weight="normal" transform="rotate(-90 388.00 331.00)">VCC</text>
<text x="396.00" y="331.00" fill="#000000" stroke="#000000" stroke-width="0.3" font-size="6" text-anchor="end" font-weight="normal" transform="rotate(-90 396.00 331.00)">P0 0</text>
<text x="403.00" y="331.00" fill="#000000" stroke="#000000" stroke-width="0.3" font-size="6" text-anchor="end" font-weight="normal" transform="rotate(-90 403.00 331.00)">P0 1</text>
<text x="411.00" y="331.00" fill="#000000" stroke="#000000" stroke-width="0.3" font-size="6" text-anchor="end" font-weight="normal" transform="rotate(-90 411.00 331.00)">P0 2</text>
<text x="418.00" y="331.00" fill="#000000" stroke="#000000" stroke-width="0.3" font-size="6" text-anchor="end" font-weight="normal" transform="rotate(-90 418.00 331.00)">P0 3</text>
<text x="343.00" y="418.50" fill="#000000" stroke="#000000" stroke-width="0.3" font-size="5.8" text-anchor="start" font-weight="normal" transform="rotate(-90 343.00 418.50)">P3 6</text>
<text x="350.00" y="418.50" fill="#000000" stroke="#000000" stroke-width="0.3" font-size="5.8" text-anchor="start" font-weight="normal" transform="rotate(-90 350.00 418.50)">P3 7</text>
<text x="358.00" y="418.50" fill="#000000" stroke="#000000" stroke-width="0.3" font-size="5.8" text-anchor="start" font-weight="normal" transform="rotate(-90 358.00 418.50)">X2</text>
<text x="366.00" y="418.50" fill="#000000" stroke="#000000" stroke-width="0.3" font-size="5.8" text-anchor="start" font-weight="normal" transform="rotate(-90 366.00 418.50)">X1</text>
<text x="373.00" y="418.50" fill="#000000" stroke="#000000" stroke-width="0.3" font-size="5.8" text-anchor="start" font-weight="normal" transform="rotate(-90 373.00 418.50)">GND</text>
<text x="381.00" y="418.50" fill="#000000" stroke="#000000" stroke-width="0.3" font-size="5.8" text-anchor="start" font-weight="normal" transform="rotate(-90 381.00 418.50)">GND</text>
<text x="388.00" y="418.50" fill="#000000" stroke="#000000" stroke-width="0.3" font-size="5.8" text-anchor="start" font-weight="normal" transform="rotate(-90 388.00 418.50)">P2 0</text>
<text x="396.00" y="418.50" fill="#000000" stroke="#000000" stroke-width="0.3" font-size="5.8" text-anchor="start" font-weight="normal" transform="rotate(-90 396.00 418.50)">P2 1</text>
<text x="403.00" y="418.50" fill="#000000" stroke="#000000" stroke-width="0.3" font-size="5.8" text-anchor="start" font-weight="normal" transform="rotate(-90 403.00 418.50)">P2 2</text>
<text x="411.00" y="418.50" fill="#000000" stroke="#000000" stroke-width="0.3" font-size="5.8" text-anchor="start" font-weight="normal" transform="rotate(-90 411.00 418.50)">P2 3</text>
<text x="418.00" y="418.50" fill="#000000" stroke="#000000" stroke-width="0.3" font-size="5.8" text-anchor="start" font-weight="normal" transform="rotate(-90 418.00 418.50)">P2 4</text>
<line x1="295.00" y1="340.50" x2="332.00" y2="340.50" stroke="#000000" stroke-width="1"/>
<line x1="424.00" y1="340.50" x2="446.00" y2="340.50" stroke="#000000" stroke-width="1"/>
<text x="321.50" y="339.00" fill="#000000" stroke="#000000" stroke-width="0.3" font-size="6.5" text-anchor="end" font-weight="normal">1</text>
<text x="438.00" y="339.00" fill="#000000" stroke="#000000" stroke-width="0.3" font-size="6.5" text-anchor="middle" font-weight="normal">33</text>
<text x="337.00" y="343.00" fill="#000000" stroke="#000000" stroke-width="0.3" font-size="6.5" text-anchor="start" font-weight="normal">P1 5</text>
<text x="417.50" y="343.00" fill="#000000" stroke="#000000" stroke-width="0.3" font-size="6.5" text-anchor="end" font-weight="normal">P0 4</text>
<line x1="295.00" y1="348.50" x2="332.00" y2="348.50" stroke="#000000" stroke-width="1"/>
<line x1="424.00" y1="348.50" x2="446.00" y2="348.50" stroke="#000000" stroke-width="1"/>
<text x="321.50" y="347.00" fill="#000000" stroke="#000000" stroke-width="0.3" font-size="6.5" text-anchor="end" font-weight="normal">2</text>
<text x="438.00" y="347.00" fill="#000000" stroke="#000000" stroke-width="0.3" font-size="6.5" text-anchor="middle" font-weight="normal">32</text>
<text x="337.00" y="351.00" fill="#000000" stroke="#000000" stroke-width="0.3" font-size="6.5" text-anchor="start" font-weight="normal">P1 6</text>
<text x="417.50" y="351.00" fill="#000000" stroke="#000000" stroke-width="0.3" font-size="6.5" text-anchor="end" font-weight="normal">P0 5</text>
<line x1="295.00" y1="355.50" x2="332.00" y2="355.50" stroke="#000000" stroke-width="1"/>
<line x1="424.00" y1="355.50" x2="446.00" y2="355.50" stroke="#000000" stroke-width="1"/>
<text x="321.50" y="354.00" fill="#000000" stroke="#000000" stroke-width="0.3" font-size="6.5" text-anchor="end" font-weight="normal">3</text>
<text x="438.00" y="354.00" fill="#000000" stroke="#000000" stroke-width="0.3" font-size="6.5" text-anchor="middle" font-weight="normal">31</text>
<text x="337.00" y="358.00" fill="#000000" stroke="#000000" stroke-width="0.3" font-size="6.5" text-anchor="start" font-weight="normal">P1 7</text>
<text x="417.50" y="358.00" fill="#000000" stroke="#000000" stroke-width="0.3" font-size="6.5" text-anchor="end" font-weight="normal">P0 6</text>
<line x1="311.00" y1="363.50" x2="332.00" y2="363.50" stroke="#000000" stroke-width="1"/>
<line x1="424.00" y1="363.50" x2="446.00" y2="363.50" stroke="#000000" stroke-width="1"/>
<text x="321.50" y="362.00" fill="#000000" stroke="#000000" stroke-width="0.3" font-size="6.5" text-anchor="end" font-weight="normal">4</text>
<text x="438.00" y="362.00" fill="#000000" stroke="#000000" stroke-width="0.3" font-size="6.5" text-anchor="middle" font-weight="normal">30</text>
<text x="337.00" y="366.00" fill="#000000" stroke="#000000" stroke-width="0.3" font-size="6.5" text-anchor="start" font-weight="normal">RST</text>
<text x="417.50" y="366.00" fill="#000000" stroke="#000000" stroke-width="0.3" font-size="6.5" text-anchor="end" font-weight="normal">P0 7</text>
<line x1="311.00" y1="370.50" x2="332.00" y2="370.50" stroke="#000000" stroke-width="1"/>
<line x1="424.00" y1="370.50" x2="446.00" y2="370.50" stroke="#000000" stroke-width="1"/>
<text x="321.50" y="369.00" fill="#000000" stroke="#000000" stroke-width="0.3" font-size="6.5" text-anchor="end" font-weight="normal">5</text>
<text x="438.00" y="369.00" fill="#000000" stroke="#000000" stroke-width="0.3" font-size="6.5" text-anchor="middle" font-weight="normal">29</text>
<text x="337.00" y="373.00" fill="#000000" stroke="#000000" stroke-width="0.3" font-size="6.5" text-anchor="start" font-weight="normal">P3 0(RXD)</text>
<text x="417.50" y="373.00" fill="#000000" stroke="#000000" stroke-width="0.3" font-size="6.5" text-anchor="end" font-weight="normal">EA</text>
<line x1="311.00" y1="378.50" x2="332.00" y2="378.50" stroke="#000000" stroke-width="1"/>
<line x1="424.00" y1="378.50" x2="446.00" y2="378.50" stroke="#000000" stroke-width="1"/>
<text x="321.50" y="377.00" fill="#000000" stroke="#000000" stroke-width="0.3" font-size="6.5" text-anchor="end" font-weight="normal">6</text>
<text x="438.00" y="377.00" fill="#000000" stroke="#000000" stroke-width="0.3" font-size="6.5" text-anchor="middle" font-weight="normal">28</text>
<text x="337.00" y="381.00" fill="#000000" stroke="#000000" stroke-width="0.3" font-size="6.5" text-anchor="start" font-weight="normal">NC</text>
<text x="417.50" y="381.00" fill="#000000" stroke="#000000" stroke-width="0.3" font-size="6.5" text-anchor="end" font-weight="normal">NC</text>
<line x1="311.00" y1="385.50" x2="332.00" y2="385.50" stroke="#000000" stroke-width="1"/>
<line x1="424.00" y1="385.50" x2="446.00" y2="385.50" stroke="#000000" stroke-width="1"/>
<text x="321.50" y="384.00" fill="#000000" stroke="#000000" stroke-width="0.3" font-size="6.5" text-anchor="end" font-weight="normal">7</text>
<text x="438.00" y="384.00" fill="#000000" stroke="#000000" stroke-width="0.3" font-size="6.5" text-anchor="middle" font-weight="normal">27</text>
<text x="337.00" y="388.00" fill="#000000" stroke="#000000" stroke-width="0.3" font-size="6.5" text-anchor="start" font-weight="normal">P3 1(TXD)</text>
<text x="417.50" y="388.00" fill="#000000" stroke="#000000" stroke-width="0.3" font-size="6.5" text-anchor="end" font-weight="normal">ALE</text>
<line x1="311.00" y1="393.50" x2="332.00" y2="393.50" stroke="#000000" stroke-width="1"/>
<line x1="424.00" y1="393.50" x2="446.00" y2="393.50" stroke="#000000" stroke-width="1"/>
<text x="321.50" y="392.00" fill="#000000" stroke="#000000" stroke-width="0.3" font-size="6.5" text-anchor="end" font-weight="normal">8</text>
<text x="438.00" y="392.00" fill="#000000" stroke="#000000" stroke-width="0.3" font-size="6.5" text-anchor="middle" font-weight="normal">26</text>
<text x="337.00" y="396.00" fill="#000000" stroke="#000000" stroke-width="0.3" font-size="6.5" text-anchor="start" font-weight="normal">P3 2(INT0)</text>
<text x="417.50" y="396.00" fill="#000000" stroke="#000000" stroke-width="0.3" font-size="6.5" text-anchor="end" font-weight="normal">PSEN</text>
<line x1="311.00" y1="401.50" x2="332.00" y2="401.50" stroke="#000000" stroke-width="1"/>
<line x1="424.00" y1="401.50" x2="446.00" y2="401.50" stroke="#000000" stroke-width="1"/>
<text x="321.50" y="400.00" fill="#000000" stroke="#000000" stroke-width="0.3" font-size="6.5" text-anchor="end" font-weight="normal">9</text>
<text x="438.00" y="400.00" fill="#000000" stroke="#000000" stroke-width="0.3" font-size="6.5" text-anchor="middle" font-weight="normal">25</text>
<text x="337.00" y="404.00" fill="#000000" stroke="#000000" stroke-width="0.3" font-size="6.5" text-anchor="start" font-weight="normal">P3 3(INT1)</text>
<text x="417.50" y="404.00" fill="#000000" stroke="#000000" stroke-width="0.3" font-size="6.5" text-anchor="end" font-weight="normal">P2 7</text>
<line x1="311.00" y1="408.50" x2="332.00" y2="408.50" stroke="#000000" stroke-width="1"/>
<line x1="424.00" y1="408.50" x2="446.00" y2="408.50" stroke="#000000" stroke-width="1"/>
<text x="321.50" y="407.00" fill="#000000" stroke="#000000" stroke-width="0.3" font-size="6.5" text-anchor="end" font-weight="normal">10</text>
<text x="438.00" y="407.00" fill="#000000" stroke="#000000" stroke-width="0.3" font-size="6.5" text-anchor="middle" font-weight="normal">24</text>
<text x="337.00" y="411.00" fill="#000000" stroke="#000000" stroke-width="0.3" font-size="6.5" text-anchor="start" font-weight="normal">P3 4</text>
<text x="417.50" y="411.00" fill="#000000" stroke="#000000" stroke-width="0.3" font-size="6.5" text-anchor="end" font-weight="normal">P2 6</text>
<line x1="311.00" y1="416.50" x2="332.00" y2="416.50" stroke="#000000" stroke-width="1"/>
<line x1="424.00" y1="416.50" x2="446.00" y2="416.50" stroke="#000000" stroke-width="1"/>
<text x="321.50" y="415.00" fill="#000000" stroke="#000000" stroke-width="0.3" font-size="6.5" text-anchor="end" font-weight="normal">11</text>
<text x="438.00" y="415.00" fill="#000000" stroke="#000000" stroke-width="0.3" font-size="6.5" text-anchor="middle" font-weight="normal">23</text>
<line x1="406.00" y1="366.50" x2="419.00" y2="366.50" stroke="#000000" stroke-width="1"/>
<text x="378.00" y="377.00" fill="#00005A" stroke="#00005A" stroke-width="0.3" font-size="6.5" text-anchor="start" font-weight="normal">U2</text>
<text x="423.00" y="437.50" fill="#00005A" stroke="#00005A" stroke-width="0.3" font-size="6.5" text-anchor="start" font-weight="normal">AT89C52</text>
<line x1="287" y1="333.0" x2="295" y2="340.5" stroke="#0C0A48"/>
<line x1="287" y1="341.0" x2="295" y2="348.5" stroke="#0C0A48"/>
<line x1="287" y1="348.0" x2="295" y2="355.5" stroke="#0C0A48"/>
<line x1="212.00" y1="340.50" x2="280.00" y2="340.50" stroke="#0C0A48" stroke-width="1"/>
<line x1="280.5" y1="340.5" x2="287" y2="333.5" stroke="#0C0A48"/>
<line x1="212.00" y1="348.50" x2="280.00" y2="348.50" stroke="#0C0A48" stroke-width="1"/>
<line x1="280.5" y1="348.5" x2="287" y2="341.5" stroke="#0C0A48"/>
<polyline points="311.50,363.50 257.50,363.50 257.50,431.50 181.50,431.50 181.50,461.50 151.50,461.50 151.50,445.50" stroke="#0C0A48" stroke-width="1" fill="none" stroke-linejoin="miter"/>
<polyline points="311.50,370.50 264.50,370.50 264.50,567.50 226.50,567.50" stroke="#0C0A48" stroke-width="1" fill="none" stroke-linejoin="miter"/>
<polyline points="311.50,385.50 272.50,385.50 272.50,506.50 325.50,506.50 325.50,658.50 393.50,658.50 393.50,593.50" stroke="#0C0A48" stroke-width="1" fill="none" stroke-linejoin="miter"/>
<polyline points="287.50,408.50 311.50,408.50" stroke="#0C0A48" stroke-width="1" fill="none" stroke-linejoin="miter"/>
<text x="287.00" y="404.50" fill="#800000" stroke="#800000" stroke-width="0.1" font-size="6.5" text-anchor="start" font-weight="bold">T0</text>
<polyline points="355.50,446.50 355.50,484.50 372.50,484.50" stroke="#0C0A48" stroke-width="1" fill="none" stroke-linejoin="miter"/>
<polyline points="363.50,446.50 363.50,476.50 400.50,476.50 400.50,495.50" stroke="#0C0A48" stroke-width="1" fill="none" stroke-linejoin="miter"/>
<polyline points="370.50,446.50 370.50,469.50" stroke="#0C0A48" stroke-width="1" fill="none" stroke-linejoin="miter"/>
<polyline points="378.50,446.50 378.50,469.50" stroke="#0C0A48" stroke-width="1" fill="none" stroke-linejoin="miter"/>
<line x1="378.5" y1="469" x2="370.5" y2="476" stroke="#0C0A48"/>
<polyline points="378.50,469.50 408.50,469.50 408.50,505.50 400.50,505.50" stroke="#0C0A48" stroke-width="1" fill="none" stroke-linejoin="miter"/>
<rect x="372" y="480" width="1.5" height="9" fill="#0000FF"/>
<rect x="384" y="480" width="1.5" height="9" fill="#0000FF"/>
<rect x="376.5" y="477.5" width="5.0" height="14.0" stroke="#0000FF" stroke-width="1" fill="none"/>
<polyline points="385.50,484.50 400.50,484.50" stroke="#0C0A48" stroke-width="1" fill="none" stroke-linejoin="miter"/>
<circle cx="400.5" cy="484.5" r="1.3" fill="#0C0A48"/>
<rect x="395" y="494.5" width="13" height="1.5" fill="#0000FF"/>
<rect x="395" y="497.5" width="13" height="1.5" fill="#0000FF"/>
<polyline points="400.50,498.50 400.50,516.50" stroke="#0C0A48" stroke-width="1" fill="none" stroke-linejoin="miter"/>
<line x1="400.50" y1="512.00" x2="400.50" y2="516.00" stroke="#800000" stroke-width="1"/>
<line x1="394.00" y1="516.50" x2="408.00" y2="516.50" stroke="#800000" stroke-width="1"/>
<line x1="396.00" y1="519.50" x2="405.00" y2="519.50" stroke="#800000" stroke-width="1"/>
<line x1="398.00" y1="522.50" x2="402.00" y2="522.50" stroke="#800000" stroke-width="1"/>
<text x="370.00" y="474.50" fill="#00005A" stroke="#00005A" stroke-width="0.3" font-size="6.5" text-anchor="start" font-weight="normal">Y2</text>
<text x="369.50" y="498.50" fill="#00005A" stroke="#00005A" stroke-width="0.3" font-size="6.5" text-anchor="start" font-weight="normal">12M</text>
<text x="408.50" y="496.00" fill="#00005A" stroke="#00005A" stroke-width="0.3" font-size="6.5" text-anchor="start" font-weight="normal">C7</text>
<text x="408.50" y="505.00" fill="#00005A" stroke="#00005A" stroke-width="0.3" font-size="6.5" text-anchor="start" font-weight="normal">30</text>
<rect x="166.5" y="333.5" width="29.0" height="36.0" stroke="#800000" stroke-width="1" fill="#FFFFB0"/>
<line x1="136.00" y1="340.50" x2="166.00" y2="340.50" stroke="#000000" stroke-width="1"/>
<line x1="195.00" y1="340.50" x2="212.00" y2="340.50" stroke="#000000" stroke-width="1"/>
<text x="151.00" y="339.00" fill="#000000" stroke="#000000" stroke-width="0.3" font-size="6.5" text-anchor="start" font-weight="normal">4</text>
<text x="208.00" y="339.00" fill="#000000" stroke="#000000" stroke-width="0.3" font-size="6.5" text-anchor="start" font-weight="normal">5</text>
<line x1="136.00" y1="348.50" x2="166.00" y2="348.50" stroke="#000000" stroke-width="1"/>
<line x1="195.00" y1="348.50" x2="212.00" y2="348.50" stroke="#000000" stroke-width="1"/>
<text x="151.00" y="347.00" fill="#000000" stroke="#000000" stroke-width="0.3" font-size="6.5" text-anchor="start" font-weight="normal">3</text>
<text x="208.00" y="347.00" fill="#000000" stroke="#000000" stroke-width="0.3" font-size="6.5" text-anchor="start" font-weight="normal">6</text>
<line x1="136.00" y1="355.50" x2="166.00" y2="355.50" stroke="#000000" stroke-width="1"/>
<line x1="195.00" y1="355.50" x2="212.00" y2="355.50" stroke="#000000" stroke-width="1"/>
<text x="151.00" y="354.00" fill="#000000" stroke="#000000" stroke-width="0.3" font-size="6.5" text-anchor="start" font-weight="normal">2</text>
<text x="208.00" y="354.00" fill="#000000" stroke="#000000" stroke-width="0.3" font-size="6.5" text-anchor="start" font-weight="normal">7</text>
<line x1="136.00" y1="363.50" x2="166.00" y2="363.50" stroke="#000000" stroke-width="1"/>
<line x1="195.00" y1="363.50" x2="212.00" y2="363.50" stroke="#000000" stroke-width="1"/>
<text x="151.00" y="362.00" fill="#000000" stroke="#000000" stroke-width="0.3" font-size="6.5" text-anchor="start" font-weight="normal">1</text>
<text x="208.00" y="362.00" fill="#000000" stroke="#000000" stroke-width="0.3" font-size="6.5" text-anchor="start" font-weight="normal">8</text>
<line x1="136.50" y1="340.00" x2="136.50" y2="378.00" stroke="#0C0A48" stroke-width="1"/>
<circle cx="136.5" cy="348.5" r="1.3" fill="#0C0A48"/>
<circle cx="136.5" cy="355.5" r="1.3" fill="#0C0A48"/>
<circle cx="136.5" cy="363.5" r="1.3" fill="#0C0A48"/>
<circle cx="136.5" cy="378.5" r="1.3" fill="#0C0A48"/>
<polyline points="136.50,378.50 242.50,378.50 242.50,355.50 212.50,355.50" stroke="#0C0A48" stroke-width="1" fill="none" stroke-linejoin="miter"/>
<polyline points="212.50,363.50 219.50,363.50 219.50,369.50" stroke="#0C0A48" stroke-width="1" fill="none" stroke-linejoin="miter"/>
<text x="212.00" y="376.00" fill="#800000" stroke="#800000" stroke-width="0.3" font-size="6.5" text-anchor="start" font-weight="normal">VCC</text>
<polyline points="136.50,378.50 136.50,385.50" stroke="#0C0A48" stroke-width="1" fill="none" stroke-linejoin="miter"/>
<line x1="136.50" y1="381.00" x2="136.50" y2="385.00" stroke="#800000" stroke-width="1"/>
<line x1="130.00" y1="385.50" x2="144.00" y2="385.50" stroke="#800000" stroke-width="1"/>
<line x1="132.00" y1="388.50" x2="141.00" y2="388.50" stroke="#800000" stroke-width="1"/>
<line x1="134.00" y1="391.50" x2="138.00" y2="391.50" stroke="#800000" stroke-width="1"/>
<text x="166.00" y="331.50" fill="#00005A" stroke="#00005A" stroke-width="0.3" font-size="6.5" text-anchor="start" font-weight="normal">IC2</text>
<text x="166.00" y="377.00" fill="#00005A" stroke="#00005A" stroke-width="0.3" font-size="6.5" text-anchor="start" font-weight="normal">AT24C02</text>
<text x="212.50" y="346.50" fill="#00005A" stroke="#00005A" stroke-width="0.3" font-size="6.5" text-anchor="start" font-weight="normal">scl</text>
<text x="204.00" y="324.00" fill="#00005A" stroke="#00005A" stroke-width="0.3" font-size="6.5" text-anchor="start" font-weight="normal">sdl</text>
<line x1="208.00" y1="272.50" x2="216.00" y2="272.50" stroke="#800000" stroke-width="1"/>
<text x="212.50" y="270.80" fill="#800000" stroke="#800000" stroke-width="0.3" font-size="6.5" text-anchor="middle" font-weight="normal">VCC</text>
<polyline points="212.50,272.50 212.50,295.50" stroke="#0C0A48" stroke-width="1" fill="none" stroke-linejoin="miter"/>
<polyline points="212.50,280.50 234.50,280.50 234.50,295.50" stroke="#0C0A48" stroke-width="1" fill="none" stroke-linejoin="miter"/>
<circle cx="212.5" cy="280.5" r="1.3" fill="#0C0A48"/>
<rect x="209.5" y="295.5" width="6.0" height="22.0" stroke="#0C0A48" stroke-width="1" fill="#FFFFE6"/>
<rect x="232.5" y="295.5" width="5.0" height="22.0" stroke="#0C0A48" stroke-width="1" fill="#FFFFE6"/>
<polyline points="212.50,317.50 212.50,340.50" stroke="#0C0A48" stroke-width="1" fill="none" stroke-linejoin="miter"/>
<polyline points="234.50,317.50 234.50,348.50" stroke="#0C0A48" stroke-width="1" fill="none" stroke-linejoin="miter"/>
<circle cx="234.5" cy="348.5" r="1.3" fill="#0C0A48"/>
<text x="215.00" y="301.50" fill="#00005A" stroke="#00005A" stroke-width="0.3" font-size="6.5" text-anchor="start" font-weight="normal">R3</text>
<text x="215.00" y="308.00" fill="#00005A" stroke="#00005A" stroke-width="0.3" font-size="6.5" text-anchor="start" font-weight="normal">1k</text>
<text x="237.00" y="301.50" fill="#00005A" stroke="#00005A" stroke-width="0.3" font-size="6.5" text-anchor="start" font-weight="normal">R4</text>
<text x="237.00" y="308.00" fill="#00005A" stroke="#00005A" stroke-width="0.3" font-size="6.5" text-anchor="start" font-weight="normal">1k</text>
<line x1="193.00" y1="393.50" x2="201.00" y2="393.50" stroke="#800000" stroke-width="1"/>
<text x="196.50" y="391.50" fill="#800000" stroke="#800000" stroke-width="0.3" font-size="6.5" text-anchor="middle" font-weight="normal">VCC</text>
<polyline points="196.50,393.50 196.50,413.50" stroke="#0C0A48" stroke-width="1" fill="none" stroke-linejoin="miter"/>
<polyline points="196.50,401.50 151.50,401.50 151.50,422.50" stroke="#0C0A48" stroke-width="1" fill="none" stroke-linejoin="miter"/>
<rect x="190.5" y="413.5" width="13" height="3" fill="#FFFFE6" stroke="#0000A0" stroke-width="1.2"/>
<rect x="190" y="418.5" width="14" height="1.8" fill="#0000A0"/>
<line x1="200.00" y1="410.50" x2="202.00" y2="410.50" stroke="#000000" stroke-width="1"/>
<line x1="200.50" y1="409.00" x2="200.50" y2="411.00" stroke="#000000" stroke-width="1"/>
<polyline points="196.50,420.50 196.50,446.50" stroke="#0C0A48" stroke-width="1" fill="none" stroke-linejoin="miter"/>
<circle cx="196.5" cy="431.5" r="1.3" fill="#0C0A48"/>
<rect x="146" y="423" width="2" height="23" fill="#0000FF"/>
<rect x="144" y="431.5" width="3" height="7" fill="#0000FF"/>
<circle cx="151.7" cy="424.3" r="1.8" fill="none" stroke="#0000FF"/>
<circle cx="151.7" cy="443.3" r="1.8" fill="none" stroke="#0000FF"/>
<text x="150.00" y="430.50" fill="#00005A" stroke="#00005A" stroke-width="0.3" font-size="6.5" text-anchor="start" font-weight="normal">S11</text>
<text x="150.50" y="437.00" fill="#00005A" stroke="#00005A" stroke-width="0.3" font-size="6.5" text-anchor="start" font-weight="normal">RESET</text>
<text x="173.00" y="422.00" fill="#00005A" stroke="#00005A" stroke-width="0.3" font-size="6.5" text-anchor="start" font-weight="normal">C5</text>
<text x="211.00" y="422.00" fill="#00005A" stroke="#00005A" stroke-width="0.3" font-size="6.5" text-anchor="start" font-weight="normal">10U</text>
<rect x="194.5" y="446.5" width="5.0" height="23.0" stroke="#0C0A48" stroke-width="1" fill="#FFFFE6"/>
<polyline points="196.50,469.50 196.50,484.50" stroke="#0C0A48" stroke-width="1" fill="none" stroke-linejoin="miter"/>
<line x1="196.50" y1="480.00" x2="196.50" y2="484.00" stroke="#800000" stroke-width="1"/>
<line x1="190.00" y1="484.50" x2="204.00" y2="484.50" stroke="#800000" stroke-width="1"/>
<line x1="192.00" y1="487.50" x2="201.00" y2="487.50" stroke="#800000" stroke-width="1"/>
<line x1="194.00" y1="490.50" x2="198.00" y2="490.50" stroke="#800000" stroke-width="1"/>
<text x="199.50" y="452.00" fill="#00005A" stroke="#00005A" stroke-width="0.3" font-size="6.5" text-anchor="start" font-weight="normal">R13</text>
<text x="199.50" y="459.00" fill="#00005A" stroke="#00005A" stroke-width="0.3" font-size="6.5" text-anchor="start" font-weight="normal">1K</text>
<rect x="151.5" y="514.5" width="75.0" height="67.0" stroke="#800000" stroke-width="1" fill="#FFFFB0"/>
<line x1="129.00" y1="522.50" x2="151.00" y2="522.50" stroke="#000000" stroke-width="1"/>
<line x1="227.00" y1="522.50" x2="249.00" y2="522.50" stroke="#000000" stroke-width="1"/>
<text x="140.00" y="521.00" fill="#000000" stroke="#000000" stroke-width="0.3" font-size="6.5" text-anchor="end" font-weight="normal">1</text>
<text x="236.50" y="521.00" fill="#000000" stroke="#000000" stroke-width="0.3" font-size="6.5" text-anchor="start" font-weight="normal">16</text>
<text x="156.00" y="525.00" fill="#000000" stroke="#000000" stroke-width="0.3" font-size="6.5" text-anchor="start" font-weight="normal">SEL0</text>
<text x="222.00" y="525.00" fill="#000000" stroke="#000000" stroke-width="0.3" font-size="6.5" text-anchor="end" font-weight="normal">SWEB</text>
<line x1="129.00" y1="529.50" x2="151.00" y2="529.50" stroke="#000000" stroke-width="1"/>
<line x1="227.00" y1="529.50" x2="249.00" y2="529.50" stroke="#000000" stroke-width="1"/>
<text x="140.00" y="528.00" fill="#000000" stroke="#000000" stroke-width="0.3" font-size="6.5" text-anchor="end" font-weight="normal">2</text>
<text x="236.50" y="528.00" fill="#000000" stroke="#000000" stroke-width="0.3" font-size="6.5" text-anchor="start" font-weight="normal">15</text>
<text x="156.00" y="532.00" fill="#000000" stroke="#000000" stroke-width="0.3" font-size="6.5" text-anchor="start" font-weight="normal">VSSRF</text>
<text x="222.00" y="532.00" fill="#000000" stroke="#000000" stroke-width="0.3" font-size="6.5" text-anchor="end" font-weight="normal">RFOSC</text>
<line x1="129.00" y1="537.50" x2="151.00" y2="537.50" stroke="#000000" stroke-width="1"/>
<line x1="227.00" y1="537.50" x2="249.00" y2="537.50" stroke="#000000" stroke-width="1"/>
<text x="140.00" y="536.00" fill="#000000" stroke="#000000" stroke-width="0.3" font-size="6.5" text-anchor="end" font-weight="normal">3</text>
<text x="236.50" y="536.00" fill="#000000" stroke="#000000" stroke-width="0.3" font-size="6.5" text-anchor="start" font-weight="normal">14</text>
<text x="156.00" y="540.00" fill="#000000" stroke="#000000" stroke-width="0.3" font-size="6.5" text-anchor="start" font-weight="normal">VSSRF</text>
<text x="222.00" y="540.00" fill="#000000" stroke="#000000" stroke-width="0.3" font-size="6.5" text-anchor="end" font-weight="normal">SEL1</text>
<line x1="129.00" y1="544.50" x2="151.00" y2="544.50" stroke="#000000" stroke-width="1"/>
<line x1="227.00" y1="544.50" x2="249.00" y2="544.50" stroke="#000000" stroke-width="1"/>
<text x="140.00" y="543.00" fill="#000000" stroke="#000000" stroke-width="0.3" font-size="6.5" text-anchor="end" font-weight="normal">4</text>
<text x="236.50" y="543.00" fill="#000000" stroke="#000000" stroke-width="0.3" font-size="6.5" text-anchor="start" font-weight="normal">13</text>
<text x="156.00" y="547.00" fill="#000000" stroke="#000000" stroke-width="0.3" font-size="6.5" text-anchor="start" font-weight="normal">ANT</text>
<text x="222.00" y="547.00" fill="#000000" stroke="#000000" stroke-width="0.3" font-size="6.5" text-anchor="end" font-weight="normal">CAGC</text>
<line x1="129.00" y1="552.50" x2="151.00" y2="552.50" stroke="#000000" stroke-width="1"/>
<line x1="227.00" y1="552.50" x2="249.00" y2="552.50" stroke="#000000" stroke-width="1"/>
<text x="140.00" y="551.00" fill="#000000" stroke="#000000" stroke-width="0.3" font-size="6.5" text-anchor="end" font-weight="normal">5</text>
<text x="236.50" y="551.00" fill="#000000" stroke="#000000" stroke-width="0.3" font-size="6.5" text-anchor="start" font-weight="normal">12</text>
<text x="156.00" y="555.00" fill="#000000" stroke="#000000" stroke-width="0.3" font-size="6.5" text-anchor="start" font-weight="normal">VDDRF</text>
<text x="222.00" y="555.00" fill="#000000" stroke="#000000" stroke-width="0.3" font-size="6.5" text-anchor="end" font-weight="normal">WAKEB</text>
<line x1="129.00" y1="559.50" x2="151.00" y2="559.50" stroke="#000000" stroke-width="1"/>
<line x1="227.00" y1="559.50" x2="249.00" y2="559.50" stroke="#000000" stroke-width="1"/>
<text x="140.00" y="558.00" fill="#000000" stroke="#000000" stroke-width="0.3" font-size="6.5" text-anchor="end" font-weight="normal">6</text>
<text x="236.50" y="558.00" fill="#000000" stroke="#000000" stroke-width="0.3" font-size="6.5" text-anchor="start" font-weight="normal">11</text>
<text x="156.00" y="562.00" fill="#000000" stroke="#000000" stroke-width="0.3" font-size="6.5" text-anchor="start" font-weight="normal">VDDRF</text>
<text x="222.00" y="562.00" fill="#000000" stroke="#000000" stroke-width="0.3" font-size="6.5" text-anchor="end" font-weight="normal">SHUT</text>
<line x1="129.00" y1="567.50" x2="151.00" y2="567.50" stroke="#000000" stroke-width="1"/>
<line x1="227.00" y1="567.50" x2="249.00" y2="567.50" stroke="#000000" stroke-width="1"/>
<text x="140.00" y="566.00" fill="#000000" stroke="#000000" stroke-width="0.3" font-size="6.5" text-anchor="end" font-weight="normal">7</text>
<text x="236.50" y="566.00" fill="#000000" stroke="#000000" stroke-width="0.3" font-size="6.5" text-anchor="start" font-weight="normal">10</text>
<text x="156.00" y="570.00" fill="#000000" stroke="#000000" stroke-width="0.3" font-size="6.5" text-anchor="start" font-weight="normal">CTH</text>
<text x="222.00" y="570.00" fill="#000000" stroke="#000000" stroke-width="0.3" font-size="6.5" text-anchor="end" font-weight="normal">DO</text>
<line x1="129.00" y1="574.50" x2="151.00" y2="574.50" stroke="#000000" stroke-width="1"/>
<line x1="227.00" y1="574.50" x2="249.00" y2="574.50" stroke="#000000" stroke-width="1"/>
<text x="140.00" y="573.00" fill="#000000" stroke="#000000" stroke-width="0.3" font-size="6.5" text-anchor="end" font-weight="normal">8</text>
<text x="236.50" y="573.00" fill="#000000" stroke="#000000" stroke-width="0.3" font-size="6.5" text-anchor="start" font-weight="normal">9</text>
<text x="156.00" y="577.00" fill="#000000" stroke="#000000" stroke-width="0.3" font-size="6.5" text-anchor="start" font-weight="normal">NC</text>
<text x="222.00" y="577.00" fill="#000000" stroke="#000000" stroke-width="0.3" font-size="6.5" text-anchor="end" font-weight="normal">VSSBB</text>
<text x="151.00" y="513.50" fill="#00005A" stroke="#00005A" stroke-width="0.3" font-size="6.5" text-anchor="start" font-weight="normal">MICRF002</text>
<polyline points="129.50,522.50 106.50,522.50 106.50,597.50" stroke="#0C0A48" stroke-width="1" fill="none" stroke-linejoin="miter"/>
<line x1="106.50" y1="593.00" x2="106.50" y2="597.00" stroke="#800000" stroke-width="1"/>
<line x1="100.00" y1="597.50" x2="114.00" y2="597.50" stroke="#800000" stroke-width="1"/>
<line x1="102.00" y1="600.50" x2="111.00" y2="600.50" stroke="#800000" stroke-width="1"/>
<line x1="104.00" y1="603.50" x2="108.00" y2="603.50" stroke="#800000" stroke-width="1"/>
<polyline points="106.50,529.50 129.50,529.50" stroke="#0C0A48" stroke-width="1" fill="none" stroke-linejoin="miter"/>
<circle cx="106.5" cy="529.5" r="1.3" fill="#0C0A48"/>
<polyline points="106.50,537.50 129.50,537.50" stroke="#0C0A48" stroke-width="1" fill="none" stroke-linejoin="miter"/>
<circle cx="106.5" cy="537.5" r="1.3" fill="#0C0A48"/>
<polyline points="98.50,490.50 98.50,544.50 129.50,544.50" stroke="#0C0A48" stroke-width="1" fill="none" stroke-linejoin="miter"/>
<polygon points="91.00,484.50 106.00,484.50 98.50,491.00" stroke="#0000FF" stroke-width="1" fill="none" stroke-linejoin="miter"/>
<line x1="98.50" y1="484.00" x2="98.50" y2="491.00" stroke="#0000FF" stroke-width="1"/>
<text x="90.00" y="474.00" fill="#00005A" stroke="#00005A" stroke-width="0.3" font-size="6.5" text-anchor="start" font-weight="normal">E2</text>
<text x="90.00" y="482.50" fill="#00005A" stroke="#00005A" stroke-width="0.3" font-size="6.5" text-anchor="start" font-weight="normal">ANTENNA</text>
<line x1="83.50" y1="546.00" x2="83.50" y2="557.00" stroke="#800000" stroke-width="1"/>
<text x="67.00" y="555.00" fill="#800000" stroke="#800000" stroke-width="0.3" font-size="6.5" text-anchor="start" font-weight="normal">VCC</text>
<polyline points="83.50,552.50 129.50,552.50" stroke="#0C0A48" stroke-width="1" fill="none" stroke-linejoin="miter"/>
<polyline points="98.50,552.50 98.50,559.50 129.50,559.50" stroke="#0C0A48" stroke-width="1" fill="none" stroke-linejoin="miter"/>
<circle cx="98.5" cy="552.5" r="1.3" fill="#0C0A48"/>
<polyline points="249.50,529.50 280.50,529.50" stroke="#0C0A48" stroke-width="1" fill="none" stroke-linejoin="miter"/>
<rect x="280" y="525" width="1.5" height="9" fill="#0000FF"/>
<rect x="287.5" y="525" width="1.5" height="9" fill="#0000FF"/>
<rect x="282.5" y="523.5" width="4.0" height="12.0" stroke="#0000FF" stroke-width="1" fill="none"/>
<polyline points="289.50,529.50 302.50,529.50 302.50,559.50 249.50,559.50" stroke="#0C0A48" stroke-width="1" fill="none" stroke-linejoin="miter"/>
<text x="280.00" y="522.50" fill="#00005A" stroke="#00005A" stroke-width="0.3" font-size="6.5" text-anchor="start" font-weight="normal">Y3</text>
<text x="279.50" y="542.00" fill="#00005A" stroke="#00005A" stroke-width="0.3" font-size="6.5" text-anchor="start" font-weight="normal">314M</text>
<polyline points="249.50,544.50 295.50,544.50 295.50,577.50" stroke="#0C0A48" stroke-width="1" fill="none" stroke-linejoin="miter"/>
<rect x="288.5" y="576.5" width="13" height="1.5" fill="#0000FF"/>
<rect x="288.5" y="580" width="13" height="1.5" fill="#0000FF"/>
<polyline points="295.50,581.50 295.50,590.50 279.50,590.50" stroke="#0C0A48" stroke-width="1" fill="none" stroke-linejoin="miter"/>
<polyline points="279.50,559.50 279.50,612.50" stroke="#0C0A48" stroke-width="1" fill="none" stroke-linejoin="miter"/>
<polyline points="249.50,574.50 279.50,574.50" stroke="#0C0A48" stroke-width="1" fill="none" stroke-linejoin="miter"/>
<circle cx="279.5" cy="590.5" r="1.3" fill="#0C0A48"/>
<circle cx="279.5" cy="574.5" r="1.3" fill="#0C0A48"/>
<line x1="279.50" y1="609.00" x2="279.50" y2="613.00" stroke="#800000" stroke-width="1"/>
<line x1="272.00" y1="612.50" x2="286.00" y2="612.50" stroke="#800000" stroke-width="1"/>
<line x1="275.00" y1="615.50" x2="284.00" y2="615.50" stroke="#800000" stroke-width="1"/>
<line x1="278.00" y1="618.50" x2="282.00" y2="618.50" stroke="#800000" stroke-width="1"/>
<text x="302.00" y="580.00" fill="#00005A" stroke="#00005A" stroke-width="0.3" font-size="6.5" text-anchor="start" font-weight="normal">C3</text>
<text x="301.50" y="588.00" fill="#00005A" stroke="#00005A" stroke-width="0.3" font-size="6.5" text-anchor="start" font-weight="normal">4 70</text>
<polyline points="325.50,642.50 340.50,642.50" stroke="#0C0A48" stroke-width="1" fill="none" stroke-linejoin="miter"/>
<rect x="340.5" y="640.5" width="23.0" height="5.0" stroke="#0C0A48" stroke-width="1" fill="#FFFFE6"/>
<polyline points="363.50,642.50 423.50,642.50" stroke="#0C0A48" stroke-width="1" fill="none" stroke-linejoin="miter"/>
<circle cx="325.5" cy="642.5" r="1.3" fill="#0C0A48"/>
<circle cx="393.5" cy="642.5" r="1.3" fill="#0C0A48"/>
<text x="339.00" y="638.00" fill="#00005A" stroke="#00005A" stroke-width="0.3" font-size="6.5" text-anchor="start" font-weight="normal">R12</text>
<text x="339.00" y="652.00" fill="#00005A" stroke="#00005A" stroke-width="0.3" font-size="6.5" text-anchor="start" font-weight="normal">300</text>
<polygon points="355.70,651.50 355.70,664.80 347.40,658.10" stroke="#0000FF" stroke-width="1" fill="#0000FF" stroke-linejoin="miter"/>
<line x1="347.50" y1="651.00" x2="347.50" y2="665.00" stroke="#0000FF" stroke-width="1.5"/>
<text x="362.40" y="665.00" fill="#00005A" stroke="#00005A" stroke-width="0.3" font-size="6.5" text-anchor="start" font-weight="normal">D3</text>
<text x="339.00" y="672.00" fill="#00005A" stroke="#00005A" stroke-width="0.3" font-size="6.5" text-anchor="start" font-weight="normal">1N4148</text>
<rect x="387" y="619.5" width="12" height="1.5" fill="#0000FF"/>
<rect x="387" y="626.5" width="12" height="1.5" fill="#0000FF"/>
<rect x="387.5" y="621.5" width="12.0" height="5.0" stroke="#0000FF" stroke-width="1" fill="none"/>
<text x="399.00" y="627.00" fill="#00005A" stroke="#00005A" stroke-width="0.3" font-size="6.5" text-anchor="start" font-weight="normal">Y4</text>
<text x="398.70" y="634.00" fill="#00005A" stroke="#00005A" stroke-width="0.3" font-size="6.5" text-anchor="start" font-weight="normal">314M</text>
<polyline points="363.50,603.50 363.50,593.50 431.50,593.50" stroke="#0C0A48" stroke-width="1" fill="none" stroke-linejoin="miter"/>
<circle cx="393.5" cy="593.5" r="1.3" fill="#0C0A48"/>
<rect x="357" y="602.5" width="13" height="1.5" fill="#0000FF"/>
<rect x="357" y="605.5" width="13" height="1.5" fill="#0000FF"/>
<polyline points="363.50,607.50 363.50,624.50" stroke="#0C0A48" stroke-width="1" fill="none" stroke-linejoin="miter"/>
<line x1="363.50" y1="621.00" x2="363.50" y2="625.00" stroke="#800000" stroke-width="1"/>
<line x1="356.00" y1="624.50" x2="370.00" y2="624.50" stroke="#800000" stroke-width="1"/>
<line x1="359.00" y1="627.50" x2="368.00" y2="627.50" stroke="#800000" stroke-width="1"/>
<line x1="362.00" y1="630.50" x2="366.00" y2="630.50" stroke="#800000" stroke-width="1"/>
<text x="370.00" y="607.00" fill="#00005A" stroke="#00005A" stroke-width="0.3" font-size="6.5" text-anchor="start" font-weight="normal">C4</text>
<text x="370.00" y="614.00" fill="#00005A" stroke="#00005A" stroke-width="0.3" font-size="6.5" text-anchor="start" font-weight="normal">1000</text>
<line x1="428.00" y1="552.50" x2="436.00" y2="552.50" stroke="#800000" stroke-width="1"/>
<text x="431.50" y="550.30" fill="#800000" stroke="#800000" stroke-width="0.3" font-size="6.5" text-anchor="middle" font-weight="normal">VCC</text>
<polyline points="431.50,552.50 431.50,571.50" stroke="#0C0A48" stroke-width="1" fill="none" stroke-linejoin="miter"/>
<polyline points="431.50,571.30 433.80,573.00 428.50,577.50 433.80,582.00 428.50,586.60 433.80,591.70 431.50,593.50 433.80,596.00 428.50,600.10 433.80,605.10 428.50,609.30 433.80,614.70 431.50,616.00" stroke="#0C0A48" stroke-width="1" fill="none" stroke-linejoin="miter"/>
<polyline points="431.50,615.50 431.50,636.50" stroke="#0C0A48" stroke-width="1" fill="none" stroke-linejoin="miter"/>
<circle cx="431.5" cy="627.5" r="1.3" fill="#0C0A48"/>
<text x="439.30" y="592.00" fill="#00005A" stroke="#00005A" stroke-width="0.3" font-size="6.5" text-anchor="start" font-weight="normal">L1</text>
<line x1="423.50" y1="636.00" x2="423.50" y2="649.00" stroke="#0C0A48" stroke-width="1.2"/>
<line x1="424" y1="639.5" x2="431.5" y2="635.8" stroke="#0C0A48"/>
<line x1="424" y1="646" x2="431.5" y2="650.5" stroke="#0C0A48"/>
<polygon points="430.50,650.50 426.00,650.20 428.50,646.50" stroke="#0000FF" stroke-width="1" fill="#0000FF" stroke-linejoin="miter"/>
<polyline points="431.50,650.50 431.50,688.50" stroke="#0C0A48" stroke-width="1" fill="none" stroke-linejoin="miter"/>
<line x1="431.50" y1="684.00" x2="431.50" y2="688.00" stroke="#800000" stroke-width="1"/>
<line x1="424.00" y1="688.50" x2="438.00" y2="688.50" stroke="#800000" stroke-width="1"/>
<line x1="427.00" y1="691.50" x2="436.00" y2="691.50" stroke="#800000" stroke-width="1"/>
<line x1="430.00" y1="694.50" x2="434.00" y2="694.50" stroke="#800000" stroke-width="1"/>
<text x="431.50" y="640.50" fill="#000000" stroke="#000000" stroke-width="0.3" font-size="6.5" text-anchor="start" font-weight="normal">Q1</text>
<text x="431.50" y="648.00" fill="#000000" stroke="#000000" stroke-width="0.3" font-size="6.5" text-anchor="start" font-weight="normal">2CS3357</text>
<polyline points="431.50,627.50 471.50,627.50" stroke="#0C0A48" stroke-width="1" fill="none" stroke-linejoin="miter"/>
<rect x="470.5" y="622" width="1.6" height="12.5" fill="#0000FF"/>
<rect x="473.8" y="622" width="1.6" height="12.5" fill="#0000FF"/>
<polyline points="475.50,627.50 521.50,627.50 521.50,581.50" stroke="#0C0A48" stroke-width="1" fill="none" stroke-linejoin="miter"/>
<polygon points="514.50,574.50 529.50,574.50 521.70,581.60" stroke="#0000FF" stroke-width="1" fill="none" stroke-linejoin="miter"/>
<line x1="521.50" y1="574.00" x2="521.50" y2="582.00" stroke="#0000FF" stroke-width="1"/>
<text x="536.00" y="580.00" fill="#00005A" stroke="#00005A" stroke-width="0.3" font-size="6.5" text-anchor="start" font-weight="normal">E3</text>
<text x="468.00" y="619.00" fill="#00005A" stroke="#00005A" stroke-width="0.3" font-size="6.5" text-anchor="start" font-weight="normal">C6</text>
<text x="468.00" y="641.00" fill="#00005A" stroke="#00005A" stroke-width="0.3" font-size="6.5" text-anchor="start" font-weight="normal">4 7</text>
<rect x="1131" y="0" width="1" height="718" fill="#FFFFEE"/>
<rect x="1132" y="0" width="1" height="718" fill="#FFFFF6"/>
</svg></body></html>
